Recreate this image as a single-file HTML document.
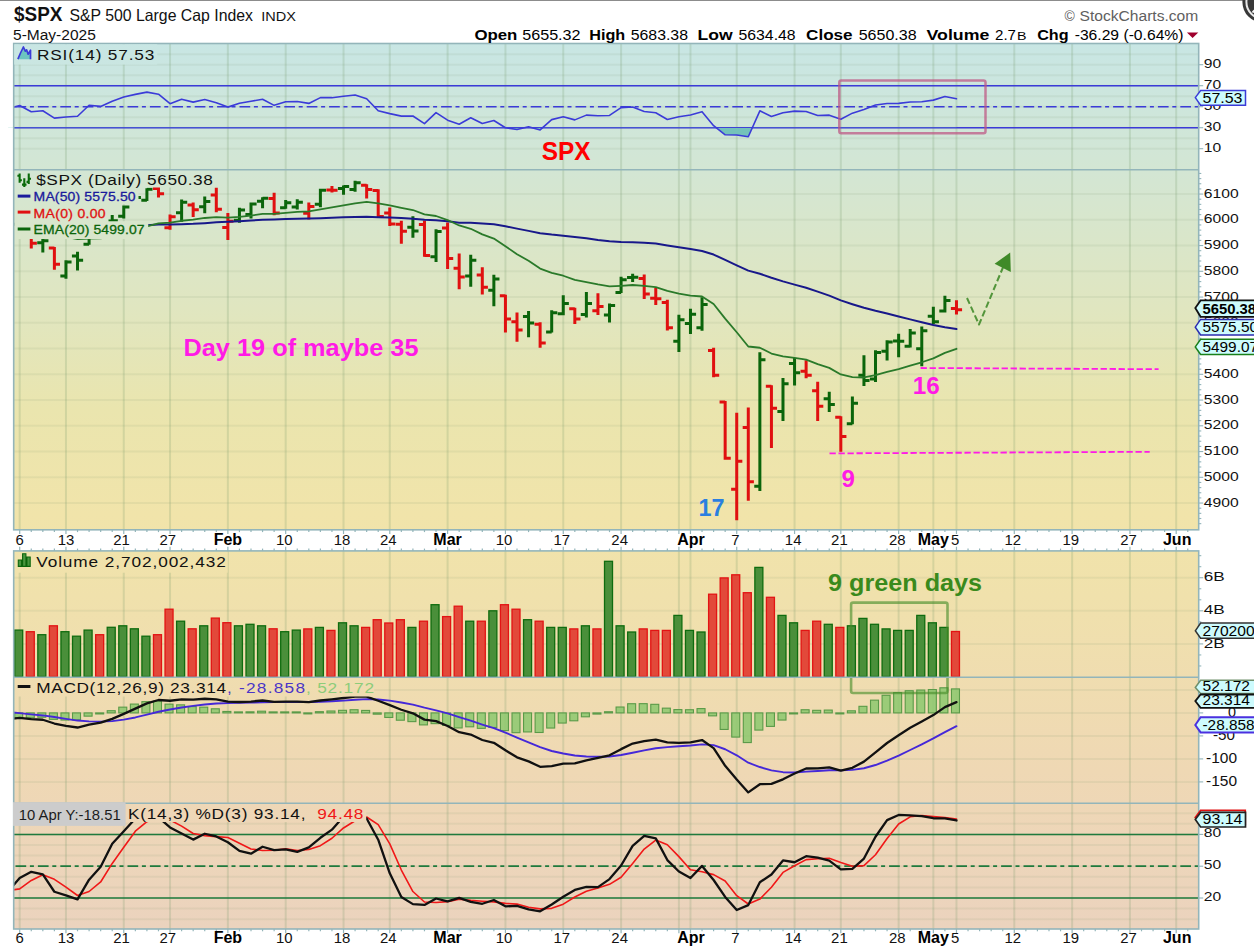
<!DOCTYPE html><html><head><meta charset="utf-8"><title>$SPX</title><style>html,body{margin:0;padding:0;background:#fff}body{width:1254px;height:948px;overflow:hidden;font-family:"Liberation Sans",sans-serif}</style></head><body><svg width="1254" height="948" viewBox="0 0 1254 948" style="display:block">
<defs>
<linearGradient id="bg" gradientUnits="userSpaceOnUse" x1="0" y1="43" x2="0" y2="928">
<stop offset="0" stop-color="#c8e6e4"/>
<stop offset="0.157" stop-color="#d4e6d2"/>
<stop offset="0.3" stop-color="#e0e6c0"/>
<stop offset="0.4136" stop-color="#eae5ae"/>
<stop offset="0.533" stop-color="#f1e4aa"/>
<stop offset="0.625" stop-color="#f0e1ac"/>
<stop offset="0.823" stop-color="#efd8b4"/>
<stop offset="1.0" stop-color="#ebd3be"/>
</linearGradient>
</defs>
<clipPath id="cR"><rect x="13.7" y="43.5" width="1185.0" height="126.1"/></clipPath>
<clipPath id="cM"><rect x="13.7" y="677.0" width="1185.0" height="126.0"/></clipPath>
<clipPath id="cS"><rect x="13.7" y="803.0" width="1185.0" height="126.0"/></clipPath>
<rect x="0" y="0" width="1254" height="948" fill="#fff" stroke="none" stroke-width="1"/>
<rect x="0" y="0" width="1254" height="1" fill="#8c8c8c" stroke="none" stroke-width="1"/>
<circle cx="1263" cy="2" r="20.6" fill="#383838"/><circle cx="1263" cy="2" r="16.6" fill="none" stroke="#e8e8e8" stroke-width="2"/><line x1="1263" y1="2" x2="1253.2" y2="11.8" stroke="#f4f4f4" stroke-width="2.2" stroke-linecap="round"/>
<rect x="13.7" y="43.5" width="1185" height="486.3" fill="url(#bg)" stroke="none" stroke-width="1"/>
<rect x="13.7" y="550.9" width="1185" height="378.1" fill="url(#bg)" stroke="none" stroke-width="1"/>
<line x1="19.7" y1="43.5" x2="19.7" y2="169.6" stroke="rgba(115,150,105,0.21)" stroke-width="2"/>
<line x1="65.96" y1="43.5" x2="65.96" y2="169.6" stroke="rgba(115,150,105,0.21)" stroke-width="2"/>
<line x1="123.78" y1="43.5" x2="123.78" y2="169.6" stroke="rgba(115,150,105,0.21)" stroke-width="2"/>
<line x1="170.04" y1="43.5" x2="170.04" y2="169.6" stroke="rgba(115,150,105,0.21)" stroke-width="2"/>
<line x1="227.87" y1="43.5" x2="227.87" y2="169.6" stroke="rgba(115,150,105,0.21)" stroke-width="2"/>
<line x1="285.69" y1="43.5" x2="285.69" y2="169.6" stroke="rgba(115,150,105,0.21)" stroke-width="2"/>
<line x1="343.52" y1="43.5" x2="343.52" y2="169.6" stroke="rgba(115,150,105,0.21)" stroke-width="2"/>
<line x1="389.78" y1="43.5" x2="389.78" y2="169.6" stroke="rgba(115,150,105,0.21)" stroke-width="2"/>
<line x1="447.6" y1="43.5" x2="447.6" y2="169.6" stroke="rgba(115,150,105,0.21)" stroke-width="2"/>
<line x1="505.43" y1="43.5" x2="505.43" y2="169.6" stroke="rgba(115,150,105,0.21)" stroke-width="2"/>
<line x1="563.25" y1="43.5" x2="563.25" y2="169.6" stroke="rgba(115,150,105,0.21)" stroke-width="2"/>
<line x1="621.08" y1="43.5" x2="621.08" y2="169.6" stroke="rgba(115,150,105,0.21)" stroke-width="2"/>
<line x1="678.9" y1="43.5" x2="678.9" y2="169.6" stroke="rgba(115,150,105,0.21)" stroke-width="2"/>
<line x1="690.47" y1="43.5" x2="690.47" y2="169.6" stroke="rgba(115,150,105,0.21)" stroke-width="2"/>
<line x1="736.73" y1="43.5" x2="736.73" y2="169.6" stroke="rgba(115,150,105,0.21)" stroke-width="2"/>
<line x1="794.56" y1="43.5" x2="794.56" y2="169.6" stroke="rgba(115,150,105,0.21)" stroke-width="2"/>
<line x1="840.82" y1="43.5" x2="840.82" y2="169.6" stroke="rgba(115,150,105,0.21)" stroke-width="2"/>
<line x1="898.64" y1="43.5" x2="898.64" y2="169.6" stroke="rgba(115,150,105,0.21)" stroke-width="2"/>
<line x1="933.34" y1="43.5" x2="933.34" y2="169.6" stroke="rgba(115,150,105,0.21)" stroke-width="2"/>
<line x1="956.47" y1="43.5" x2="956.47" y2="169.6" stroke="rgba(115,150,105,0.21)" stroke-width="2"/>
<line x1="1014.29" y1="43.5" x2="1014.29" y2="169.6" stroke="rgba(115,150,105,0.21)" stroke-width="2"/>
<line x1="1072.12" y1="43.5" x2="1072.12" y2="169.6" stroke="rgba(115,150,105,0.21)" stroke-width="2"/>
<line x1="1129.94" y1="43.5" x2="1129.94" y2="169.6" stroke="rgba(115,150,105,0.21)" stroke-width="2"/>
<line x1="1176.2" y1="43.5" x2="1176.2" y2="169.6" stroke="rgba(115,150,105,0.21)" stroke-width="2"/>
<line x1="13.7" y1="148.7" x2="1198.7" y2="148.7" stroke="rgba(115,150,105,0.10)" stroke-width="2"/>
<line x1="13.7" y1="138.2" x2="1198.7" y2="138.2" stroke="rgba(115,150,105,0.10)" stroke-width="2"/>
<line x1="13.7" y1="127.7" x2="1198.7" y2="127.7" stroke="rgba(115,150,105,0.10)" stroke-width="2"/>
<line x1="13.7" y1="117.2" x2="1198.7" y2="117.2" stroke="rgba(115,150,105,0.10)" stroke-width="2"/>
<line x1="13.7" y1="106.7" x2="1198.7" y2="106.7" stroke="rgba(115,150,105,0.10)" stroke-width="2"/>
<line x1="13.7" y1="96.2" x2="1198.7" y2="96.2" stroke="rgba(115,150,105,0.10)" stroke-width="2"/>
<line x1="13.7" y1="85.7" x2="1198.7" y2="85.7" stroke="rgba(115,150,105,0.10)" stroke-width="2"/>
<line x1="13.7" y1="75.2" x2="1198.7" y2="75.2" stroke="rgba(115,150,105,0.10)" stroke-width="2"/>
<line x1="13.7" y1="64.7" x2="1198.7" y2="64.7" stroke="rgba(115,150,105,0.10)" stroke-width="2"/>
<line x1="13.7" y1="54.2" x2="1198.7" y2="54.2" stroke="rgba(115,150,105,0.10)" stroke-width="2"/>
<line x1="19.7" y1="169.6" x2="19.7" y2="529.8" stroke="rgba(115,150,105,0.21)" stroke-width="2"/>
<line x1="65.96" y1="169.6" x2="65.96" y2="529.8" stroke="rgba(115,150,105,0.21)" stroke-width="2"/>
<line x1="123.78" y1="169.6" x2="123.78" y2="529.8" stroke="rgba(115,150,105,0.21)" stroke-width="2"/>
<line x1="170.04" y1="169.6" x2="170.04" y2="529.8" stroke="rgba(115,150,105,0.21)" stroke-width="2"/>
<line x1="227.87" y1="169.6" x2="227.87" y2="529.8" stroke="rgba(115,150,105,0.21)" stroke-width="2"/>
<line x1="285.69" y1="169.6" x2="285.69" y2="529.8" stroke="rgba(115,150,105,0.21)" stroke-width="2"/>
<line x1="343.52" y1="169.6" x2="343.52" y2="529.8" stroke="rgba(115,150,105,0.21)" stroke-width="2"/>
<line x1="389.78" y1="169.6" x2="389.78" y2="529.8" stroke="rgba(115,150,105,0.21)" stroke-width="2"/>
<line x1="447.6" y1="169.6" x2="447.6" y2="529.8" stroke="rgba(115,150,105,0.21)" stroke-width="2"/>
<line x1="505.43" y1="169.6" x2="505.43" y2="529.8" stroke="rgba(115,150,105,0.21)" stroke-width="2"/>
<line x1="563.25" y1="169.6" x2="563.25" y2="529.8" stroke="rgba(115,150,105,0.21)" stroke-width="2"/>
<line x1="621.08" y1="169.6" x2="621.08" y2="529.8" stroke="rgba(115,150,105,0.21)" stroke-width="2"/>
<line x1="678.9" y1="169.6" x2="678.9" y2="529.8" stroke="rgba(115,150,105,0.21)" stroke-width="2"/>
<line x1="690.47" y1="169.6" x2="690.47" y2="529.8" stroke="rgba(115,150,105,0.21)" stroke-width="2"/>
<line x1="736.73" y1="169.6" x2="736.73" y2="529.8" stroke="rgba(115,150,105,0.21)" stroke-width="2"/>
<line x1="794.56" y1="169.6" x2="794.56" y2="529.8" stroke="rgba(115,150,105,0.21)" stroke-width="2"/>
<line x1="840.82" y1="169.6" x2="840.82" y2="529.8" stroke="rgba(115,150,105,0.21)" stroke-width="2"/>
<line x1="898.64" y1="169.6" x2="898.64" y2="529.8" stroke="rgba(115,150,105,0.21)" stroke-width="2"/>
<line x1="933.34" y1="169.6" x2="933.34" y2="529.8" stroke="rgba(115,150,105,0.21)" stroke-width="2"/>
<line x1="956.47" y1="169.6" x2="956.47" y2="529.8" stroke="rgba(115,150,105,0.21)" stroke-width="2"/>
<line x1="1014.29" y1="169.6" x2="1014.29" y2="529.8" stroke="rgba(115,150,105,0.21)" stroke-width="2"/>
<line x1="1072.12" y1="169.6" x2="1072.12" y2="529.8" stroke="rgba(115,150,105,0.21)" stroke-width="2"/>
<line x1="1129.94" y1="169.6" x2="1129.94" y2="529.8" stroke="rgba(115,150,105,0.21)" stroke-width="2"/>
<line x1="1176.2" y1="169.6" x2="1176.2" y2="529.8" stroke="rgba(115,150,105,0.21)" stroke-width="2"/>
<line x1="13.7" y1="503.05" x2="1198.7" y2="503.05" stroke="rgba(115,150,105,0.10)" stroke-width="2"/>
<line x1="13.7" y1="477.3" x2="1198.7" y2="477.3" stroke="rgba(115,150,105,0.10)" stroke-width="2"/>
<line x1="13.7" y1="451.55" x2="1198.7" y2="451.55" stroke="rgba(115,150,105,0.10)" stroke-width="2"/>
<line x1="13.7" y1="425.8" x2="1198.7" y2="425.8" stroke="rgba(115,150,105,0.10)" stroke-width="2"/>
<line x1="13.7" y1="400.05" x2="1198.7" y2="400.05" stroke="rgba(115,150,105,0.10)" stroke-width="2"/>
<line x1="13.7" y1="374.3" x2="1198.7" y2="374.3" stroke="rgba(115,150,105,0.10)" stroke-width="2"/>
<line x1="13.7" y1="348.55" x2="1198.7" y2="348.55" stroke="rgba(115,150,105,0.10)" stroke-width="2"/>
<line x1="13.7" y1="322.8" x2="1198.7" y2="322.8" stroke="rgba(115,150,105,0.10)" stroke-width="2"/>
<line x1="13.7" y1="297.05" x2="1198.7" y2="297.05" stroke="rgba(115,150,105,0.10)" stroke-width="2"/>
<line x1="13.7" y1="271.3" x2="1198.7" y2="271.3" stroke="rgba(115,150,105,0.10)" stroke-width="2"/>
<line x1="13.7" y1="245.55" x2="1198.7" y2="245.55" stroke="rgba(115,150,105,0.10)" stroke-width="2"/>
<line x1="13.7" y1="219.8" x2="1198.7" y2="219.8" stroke="rgba(115,150,105,0.10)" stroke-width="2"/>
<line x1="13.7" y1="194.05" x2="1198.7" y2="194.05" stroke="rgba(115,150,105,0.10)" stroke-width="2"/>
<line x1="19.7" y1="550.9" x2="19.7" y2="677" stroke="rgba(115,150,105,0.21)" stroke-width="2"/>
<line x1="65.96" y1="550.9" x2="65.96" y2="677" stroke="rgba(115,150,105,0.21)" stroke-width="2"/>
<line x1="123.78" y1="550.9" x2="123.78" y2="677" stroke="rgba(115,150,105,0.21)" stroke-width="2"/>
<line x1="170.04" y1="550.9" x2="170.04" y2="677" stroke="rgba(115,150,105,0.21)" stroke-width="2"/>
<line x1="227.87" y1="550.9" x2="227.87" y2="677" stroke="rgba(115,150,105,0.21)" stroke-width="2"/>
<line x1="285.69" y1="550.9" x2="285.69" y2="677" stroke="rgba(115,150,105,0.21)" stroke-width="2"/>
<line x1="343.52" y1="550.9" x2="343.52" y2="677" stroke="rgba(115,150,105,0.21)" stroke-width="2"/>
<line x1="389.78" y1="550.9" x2="389.78" y2="677" stroke="rgba(115,150,105,0.21)" stroke-width="2"/>
<line x1="447.6" y1="550.9" x2="447.6" y2="677" stroke="rgba(115,150,105,0.21)" stroke-width="2"/>
<line x1="505.43" y1="550.9" x2="505.43" y2="677" stroke="rgba(115,150,105,0.21)" stroke-width="2"/>
<line x1="563.25" y1="550.9" x2="563.25" y2="677" stroke="rgba(115,150,105,0.21)" stroke-width="2"/>
<line x1="621.08" y1="550.9" x2="621.08" y2="677" stroke="rgba(115,150,105,0.21)" stroke-width="2"/>
<line x1="678.9" y1="550.9" x2="678.9" y2="677" stroke="rgba(115,150,105,0.21)" stroke-width="2"/>
<line x1="690.47" y1="550.9" x2="690.47" y2="677" stroke="rgba(115,150,105,0.21)" stroke-width="2"/>
<line x1="736.73" y1="550.9" x2="736.73" y2="677" stroke="rgba(115,150,105,0.21)" stroke-width="2"/>
<line x1="794.56" y1="550.9" x2="794.56" y2="677" stroke="rgba(115,150,105,0.21)" stroke-width="2"/>
<line x1="840.82" y1="550.9" x2="840.82" y2="677" stroke="rgba(115,150,105,0.21)" stroke-width="2"/>
<line x1="898.64" y1="550.9" x2="898.64" y2="677" stroke="rgba(115,150,105,0.21)" stroke-width="2"/>
<line x1="933.34" y1="550.9" x2="933.34" y2="677" stroke="rgba(115,150,105,0.21)" stroke-width="2"/>
<line x1="956.47" y1="550.9" x2="956.47" y2="677" stroke="rgba(115,150,105,0.21)" stroke-width="2"/>
<line x1="1014.29" y1="550.9" x2="1014.29" y2="677" stroke="rgba(115,150,105,0.21)" stroke-width="2"/>
<line x1="1072.12" y1="550.9" x2="1072.12" y2="677" stroke="rgba(115,150,105,0.21)" stroke-width="2"/>
<line x1="1129.94" y1="550.9" x2="1129.94" y2="677" stroke="rgba(115,150,105,0.21)" stroke-width="2"/>
<line x1="1176.2" y1="550.9" x2="1176.2" y2="677" stroke="rgba(115,150,105,0.21)" stroke-width="2"/>
<line x1="13.7" y1="643.9" x2="1198.7" y2="643.9" stroke="rgba(115,150,105,0.10)" stroke-width="2"/>
<line x1="13.7" y1="610.8" x2="1198.7" y2="610.8" stroke="rgba(115,150,105,0.10)" stroke-width="2"/>
<line x1="13.7" y1="577.7" x2="1198.7" y2="577.7" stroke="rgba(115,150,105,0.10)" stroke-width="2"/>
<line x1="19.7" y1="677" x2="19.7" y2="803" stroke="rgba(115,150,105,0.21)" stroke-width="2"/>
<line x1="65.96" y1="677" x2="65.96" y2="803" stroke="rgba(115,150,105,0.21)" stroke-width="2"/>
<line x1="123.78" y1="677" x2="123.78" y2="803" stroke="rgba(115,150,105,0.21)" stroke-width="2"/>
<line x1="170.04" y1="677" x2="170.04" y2="803" stroke="rgba(115,150,105,0.21)" stroke-width="2"/>
<line x1="227.87" y1="677" x2="227.87" y2="803" stroke="rgba(115,150,105,0.21)" stroke-width="2"/>
<line x1="285.69" y1="677" x2="285.69" y2="803" stroke="rgba(115,150,105,0.21)" stroke-width="2"/>
<line x1="343.52" y1="677" x2="343.52" y2="803" stroke="rgba(115,150,105,0.21)" stroke-width="2"/>
<line x1="389.78" y1="677" x2="389.78" y2="803" stroke="rgba(115,150,105,0.21)" stroke-width="2"/>
<line x1="447.6" y1="677" x2="447.6" y2="803" stroke="rgba(115,150,105,0.21)" stroke-width="2"/>
<line x1="505.43" y1="677" x2="505.43" y2="803" stroke="rgba(115,150,105,0.21)" stroke-width="2"/>
<line x1="563.25" y1="677" x2="563.25" y2="803" stroke="rgba(115,150,105,0.21)" stroke-width="2"/>
<line x1="621.08" y1="677" x2="621.08" y2="803" stroke="rgba(115,150,105,0.21)" stroke-width="2"/>
<line x1="678.9" y1="677" x2="678.9" y2="803" stroke="rgba(115,150,105,0.21)" stroke-width="2"/>
<line x1="690.47" y1="677" x2="690.47" y2="803" stroke="rgba(115,150,105,0.21)" stroke-width="2"/>
<line x1="736.73" y1="677" x2="736.73" y2="803" stroke="rgba(115,150,105,0.21)" stroke-width="2"/>
<line x1="794.56" y1="677" x2="794.56" y2="803" stroke="rgba(115,150,105,0.21)" stroke-width="2"/>
<line x1="840.82" y1="677" x2="840.82" y2="803" stroke="rgba(115,150,105,0.21)" stroke-width="2"/>
<line x1="898.64" y1="677" x2="898.64" y2="803" stroke="rgba(115,150,105,0.21)" stroke-width="2"/>
<line x1="933.34" y1="677" x2="933.34" y2="803" stroke="rgba(115,150,105,0.21)" stroke-width="2"/>
<line x1="956.47" y1="677" x2="956.47" y2="803" stroke="rgba(115,150,105,0.21)" stroke-width="2"/>
<line x1="1014.29" y1="677" x2="1014.29" y2="803" stroke="rgba(115,150,105,0.21)" stroke-width="2"/>
<line x1="1072.12" y1="677" x2="1072.12" y2="803" stroke="rgba(115,150,105,0.21)" stroke-width="2"/>
<line x1="1129.94" y1="677" x2="1129.94" y2="803" stroke="rgba(115,150,105,0.21)" stroke-width="2"/>
<line x1="1176.2" y1="677" x2="1176.2" y2="803" stroke="rgba(115,150,105,0.21)" stroke-width="2"/>
<line x1="13.7" y1="689.9" x2="1198.7" y2="689.9" stroke="rgba(115,150,105,0.10)" stroke-width="2"/>
<line x1="13.7" y1="712.9" x2="1198.7" y2="712.9" stroke="rgba(115,150,105,0.10)" stroke-width="2"/>
<line x1="13.7" y1="735.9" x2="1198.7" y2="735.9" stroke="rgba(115,150,105,0.10)" stroke-width="2"/>
<line x1="13.7" y1="758.9" x2="1198.7" y2="758.9" stroke="rgba(115,150,105,0.10)" stroke-width="2"/>
<line x1="13.7" y1="781.9" x2="1198.7" y2="781.9" stroke="rgba(115,150,105,0.10)" stroke-width="2"/>
<line x1="19.7" y1="803" x2="19.7" y2="929" stroke="rgba(115,150,105,0.21)" stroke-width="2"/>
<line x1="65.96" y1="803" x2="65.96" y2="929" stroke="rgba(115,150,105,0.21)" stroke-width="2"/>
<line x1="123.78" y1="803" x2="123.78" y2="929" stroke="rgba(115,150,105,0.21)" stroke-width="2"/>
<line x1="170.04" y1="803" x2="170.04" y2="929" stroke="rgba(115,150,105,0.21)" stroke-width="2"/>
<line x1="227.87" y1="803" x2="227.87" y2="929" stroke="rgba(115,150,105,0.21)" stroke-width="2"/>
<line x1="285.69" y1="803" x2="285.69" y2="929" stroke="rgba(115,150,105,0.21)" stroke-width="2"/>
<line x1="343.52" y1="803" x2="343.52" y2="929" stroke="rgba(115,150,105,0.21)" stroke-width="2"/>
<line x1="389.78" y1="803" x2="389.78" y2="929" stroke="rgba(115,150,105,0.21)" stroke-width="2"/>
<line x1="447.6" y1="803" x2="447.6" y2="929" stroke="rgba(115,150,105,0.21)" stroke-width="2"/>
<line x1="505.43" y1="803" x2="505.43" y2="929" stroke="rgba(115,150,105,0.21)" stroke-width="2"/>
<line x1="563.25" y1="803" x2="563.25" y2="929" stroke="rgba(115,150,105,0.21)" stroke-width="2"/>
<line x1="621.08" y1="803" x2="621.08" y2="929" stroke="rgba(115,150,105,0.21)" stroke-width="2"/>
<line x1="678.9" y1="803" x2="678.9" y2="929" stroke="rgba(115,150,105,0.21)" stroke-width="2"/>
<line x1="690.47" y1="803" x2="690.47" y2="929" stroke="rgba(115,150,105,0.21)" stroke-width="2"/>
<line x1="736.73" y1="803" x2="736.73" y2="929" stroke="rgba(115,150,105,0.21)" stroke-width="2"/>
<line x1="794.56" y1="803" x2="794.56" y2="929" stroke="rgba(115,150,105,0.21)" stroke-width="2"/>
<line x1="840.82" y1="803" x2="840.82" y2="929" stroke="rgba(115,150,105,0.21)" stroke-width="2"/>
<line x1="898.64" y1="803" x2="898.64" y2="929" stroke="rgba(115,150,105,0.21)" stroke-width="2"/>
<line x1="933.34" y1="803" x2="933.34" y2="929" stroke="rgba(115,150,105,0.21)" stroke-width="2"/>
<line x1="956.47" y1="803" x2="956.47" y2="929" stroke="rgba(115,150,105,0.21)" stroke-width="2"/>
<line x1="1014.29" y1="803" x2="1014.29" y2="929" stroke="rgba(115,150,105,0.21)" stroke-width="2"/>
<line x1="1072.12" y1="803" x2="1072.12" y2="929" stroke="rgba(115,150,105,0.21)" stroke-width="2"/>
<line x1="1129.94" y1="803" x2="1129.94" y2="929" stroke="rgba(115,150,105,0.21)" stroke-width="2"/>
<line x1="1176.2" y1="803" x2="1176.2" y2="929" stroke="rgba(115,150,105,0.21)" stroke-width="2"/>
<line x1="13.7" y1="919.2" x2="1198.7" y2="919.2" stroke="rgba(115,150,105,0.10)" stroke-width="2"/>
<line x1="13.7" y1="908.6" x2="1198.7" y2="908.6" stroke="rgba(115,150,105,0.10)" stroke-width="2"/>
<line x1="13.7" y1="898" x2="1198.7" y2="898" stroke="rgba(115,150,105,0.10)" stroke-width="2"/>
<line x1="13.7" y1="887.4" x2="1198.7" y2="887.4" stroke="rgba(115,150,105,0.10)" stroke-width="2"/>
<line x1="13.7" y1="876.8" x2="1198.7" y2="876.8" stroke="rgba(115,150,105,0.10)" stroke-width="2"/>
<line x1="13.7" y1="866.2" x2="1198.7" y2="866.2" stroke="rgba(115,150,105,0.10)" stroke-width="2"/>
<line x1="13.7" y1="855.6" x2="1198.7" y2="855.6" stroke="rgba(115,150,105,0.10)" stroke-width="2"/>
<line x1="13.7" y1="845" x2="1198.7" y2="845" stroke="rgba(115,150,105,0.10)" stroke-width="2"/>
<line x1="13.7" y1="834.4" x2="1198.7" y2="834.4" stroke="rgba(115,150,105,0.10)" stroke-width="2"/>
<line x1="13.7" y1="823.8" x2="1198.7" y2="823.8" stroke="rgba(115,150,105,0.10)" stroke-width="2"/>
<line x1="13.7" y1="813.2" x2="1198.7" y2="813.2" stroke="rgba(115,150,105,0.10)" stroke-width="2"/>
<line x1="13.7" y1="85.7" x2="1198.7" y2="85.7" stroke="#3b3bd8" stroke-width="1.4"/>
<line x1="13.7" y1="127.7" x2="1198.7" y2="127.7" stroke="#3b3bd8" stroke-width="1.4"/>
<line x1="15.5" y1="106.7" x2="1198.7" y2="106.7" stroke="#3b3bd8" stroke-width="1.45" stroke-dasharray="10.7,3.7,4,4"/>
<clipPath id="os"><rect x="0" y="127.7" width="1254" height="60"/></clipPath>
<polygon clip-path="url(#os)" points="8.13,127.7 8.13,108.8 19.7,105.56 31.27,111.69 42.83,110.72 54.39,118.09 65.96,117.06 77.52,116.27 89.09,105.23 100.66,106.42 112.22,101.16 123.78,97.05 135.35,94.37 146.91,92.15 158.48,94.24 170.04,103.73 181.61,99.31 193.17,102.12 204.74,99.55 216.3,102.69 227.87,107.12 239.43,103.22 251,101.19 262.56,99.3 274.13,105.36 285.69,101.73 297.26,101.54 308.82,103.41 320.39,97.62 331.95,97.67 343.52,96.31 355.08,94.97 366.65,98.76 378.21,110.8 389.78,113.6 401.34,116.12 412.91,116.01 424.47,123.67 436.04,112.69 447.6,120.18 459.17,124.31 470.73,117.78 482.3,123.56 493.86,120.52 505.43,127.79 517,129.43 528.56,126.81 540.12,129.95 551.69,119.64 563.25,116.82 574.82,119.87 586.38,115.13 597.95,115.82 609.51,115.43 621.08,107.65 632.64,106.99 644.21,111.47 655.77,112.73 667.34,119.44 678.9,116.76 690.47,114.92 702.03,111.67 713.6,125.68 725.16,134.79 736.73,135.05 748.29,136.77 759.86,110.82 771.43,116.56 782.99,112.78 794.56,111.12 806.12,111.44 817.69,115.49 829.25,115.17 840.82,119.2 852.38,113.15 863.95,109.39 875.51,105.07 887.08,103.52 898.64,103.38 910.21,102.05 921.77,101.69 933.34,100.13 944.9,96.58 956.47,98.79 956.47,127.7" fill="#74c2ba"/>
<polyline points="8.13,108.8 19.7,105.56 31.27,111.69 42.83,110.72 54.39,118.09 65.96,117.06 77.52,116.27 89.09,105.23 100.66,106.42 112.22,101.16 123.78,97.05 135.35,94.37 146.91,92.15 158.48,94.24 170.04,103.73 181.61,99.31 193.17,102.12 204.74,99.55 216.3,102.69 227.87,107.12 239.43,103.22 251,101.19 262.56,99.3 274.13,105.36 285.69,101.73 297.26,101.54 308.82,103.41 320.39,97.62 331.95,97.67 343.52,96.31 355.08,94.97 366.65,98.76 378.21,110.8 389.78,113.6 401.34,116.12 412.91,116.01 424.47,123.67 436.04,112.69 447.6,120.18 459.17,124.31 470.73,117.78 482.3,123.56 493.86,120.52 505.43,127.79 517,129.43 528.56,126.81 540.12,129.95 551.69,119.64 563.25,116.82 574.82,119.87 586.38,115.13 597.95,115.82 609.51,115.43 621.08,107.65 632.64,106.99 644.21,111.47 655.77,112.73 667.34,119.44 678.9,116.76 690.47,114.92 702.03,111.67 713.6,125.68 725.16,134.79 736.73,135.05 748.29,136.77 759.86,110.82 771.43,116.56 782.99,112.78 794.56,111.12 806.12,111.44 817.69,115.49 829.25,115.17 840.82,119.2 852.38,113.15 863.95,109.39 875.51,105.07 887.08,103.52 898.64,103.38 910.21,102.05 921.77,101.69 933.34,100.13 944.9,96.58 956.47,98.79" fill="none" stroke="#3b3bd8" stroke-width="1.6" stroke-linejoin="round" stroke-linecap="round" clip-path="url(#cR)"/>
<rect x="839.3" y="80.6" width="146.2" height="52.6" fill="none" stroke="rgba(190,85,130,0.72)" stroke-width="2.5" rx="2"/>
<text x="541.8" y="160.2" font-family="Liberation Sans" font-size="25" font-weight="bold" fill="#ff0000" text-anchor="start" textLength="48.8" lengthAdjust="spacingAndGlyphs">SPX</text>
<path d="M19.7,213.38V230.6M14.1,224.23H19.7M19.7,226.14H25.3" stroke="#0b650b" stroke-width="3" fill="none"/>
<path d="M31.27,218.62V248.45M25.66,221.54H31.27M31.27,243.22H36.87" stroke="#e01010" stroke-width="3" fill="none"/>
<path d="M42.83,237.37V252.54M37.23,242.81H42.83M42.83,240.85H48.43" stroke="#0b650b" stroke-width="3" fill="none"/>
<path d="M54.39,247.03V269.8M48.79,248.03H54.39M54.39,264.34H59.99" stroke="#e01010" stroke-width="3" fill="none"/>
<path d="M65.96,260.36V278.67M60.36,275.93H65.96M65.96,261.97H71.56" stroke="#0b650b" stroke-width="3" fill="none"/>
<path d="M77.52,251.78V270.4M71.92,256.04H77.52M77.52,260.25H83.12" stroke="#0b650b" stroke-width="3" fill="none"/>
<path d="M89.09,228.94V244.71M83.49,244.21H89.09M89.09,232.7H94.69" stroke="#0b650b" stroke-width="3" fill="none"/>
<path d="M100.66,227.89V238.14M95.06,229.17H100.66M100.66,235.93H106.25" stroke="#e01010" stroke-width="3" fill="none"/>
<path d="M112.22,214.95V225.85M106.62,220.98H112.22M112.22,220.66H117.82" stroke="#0b650b" stroke-width="3" fill="none"/>
<path d="M123.78,205.54V218.53M118.19,216.16H123.78M123.78,207.12H129.38" stroke="#0b650b" stroke-width="3" fill="none"/>
<path d="M135.35,192.84V200.7M129.75,198.84H135.35M135.35,197.56H140.95" stroke="#0b650b" stroke-width="3" fill="none"/>
<path d="M146.91,188.23V201.07M141.31,200.15H146.91M146.91,189.23H152.51" stroke="#0b650b" stroke-width="3" fill="none"/>
<path d="M158.48,185.79V197.45M152.88,188.53H158.48M158.48,193.73H164.08" stroke="#e01010" stroke-width="3" fill="none"/>
<path d="M170.04,214.38V229.85M164.44,227.77H170.04M170.04,216.64H175.64" stroke="#e01010" stroke-width="3" fill="none"/>
<path d="M181.61,199.61V221.68M176.01,212.86H181.61M181.61,202.37H187.21" stroke="#0b650b" stroke-width="3" fill="none"/>
<path d="M193.17,202.62V216.96M187.57,204.94H193.17M193.17,209.68H198.77" stroke="#e01010" stroke-width="3" fill="none"/>
<path d="M204.74,196.49V213.23M199.14,206.73H204.74M204.74,201.47H210.34" stroke="#0b650b" stroke-width="3" fill="none"/>
<path d="M216.3,187.67V212.34M210.7,194.88H216.3M216.3,209.36H221.9" stroke="#e01010" stroke-width="3" fill="none"/>
<path d="M227.87,213.1V239.89M222.27,227.62H227.87M227.87,221.2H233.47" stroke="#e01010" stroke-width="3" fill="none"/>
<path d="M239.43,207.86V222.65M233.83,220.28H239.43M239.43,210.05H245.03" stroke="#0b650b" stroke-width="3" fill="none"/>
<path d="M251,202.61V218.48M245.4,214.53H251M251,203.97H256.6" stroke="#0b650b" stroke-width="3" fill="none"/>
<path d="M262.56,197.16V208.24M256.96,201.2H262.56M262.56,198.28H268.17" stroke="#0b650b" stroke-width="3" fill="none"/>
<path d="M274.13,192.72V215.16M268.53,198.39H274.13M274.13,213.11H279.73" stroke="#e01010" stroke-width="3" fill="none"/>
<path d="M285.69,199.9V208.75M280.09,207.85H285.69M285.69,202.69H291.3" stroke="#0b650b" stroke-width="3" fill="none"/>
<path d="M297.26,199.16V209.4M291.66,207.1H297.26M297.26,202.16H302.86" stroke="#0b650b" stroke-width="3" fill="none"/>
<path d="M308.82,202.58V219.53M303.22,213.34H308.82M308.82,206.42H314.43" stroke="#e01010" stroke-width="3" fill="none"/>
<path d="M320.39,188.7V207.18M314.79,204.2H320.39M320.39,190.17H325.99" stroke="#0b650b" stroke-width="3" fill="none"/>
<path d="M331.95,185.98V192.59M326.35,190.05H331.95M331.95,190.28H337.56" stroke="#e01010" stroke-width="3" fill="none"/>
<path d="M343.52,185.42V194.68M337.92,188.49H343.52M343.52,186.43H349.12" stroke="#0b650b" stroke-width="3" fill="none"/>
<path d="M355.08,180.84V191.68M349.48,189.48H355.08M355.08,182.68H360.69" stroke="#0b650b" stroke-width="3" fill="none"/>
<path d="M366.65,184.17V198.52M361.05,185.17H366.65M366.65,189.54H372.25" stroke="#e01010" stroke-width="3" fill="none"/>
<path d="M378.21,189.23V218.1M372.61,190.42H378.21M378.21,216.42H383.81" stroke="#e01010" stroke-width="3" fill="none"/>
<path d="M389.78,207.56V226.01M384.18,212.93H389.78M389.78,224.11H395.38" stroke="#e01010" stroke-width="3" fill="none"/>
<path d="M401.34,220.69V243.86M395.74,224.25H401.34M401.34,231.32H406.94" stroke="#e01010" stroke-width="3" fill="none"/>
<path d="M412.91,216.27V237.63M407.31,227.3H412.91M412.91,231.11H418.51" stroke="#0b650b" stroke-width="3" fill="none"/>
<path d="M424.47,220.42V256.66M418.87,224.47H424.47M424.47,255.45H430.07" stroke="#e01010" stroke-width="3" fill="none"/>
<path d="M436.04,229.25V262.1M430.44,256.69H436.04M436.04,231.52H441.64" stroke="#0b650b" stroke-width="3" fill="none"/>
<path d="M447.6,222.38V268.99M442,227.96H447.6M447.6,258.5H453.2" stroke="#e01010" stroke-width="3" fill="none"/>
<path d="M459.17,253.54V289.16M453.57,268.22H459.17M459.17,276.93H464.77" stroke="#e01010" stroke-width="3" fill="none"/>
<path d="M470.73,254.7V286.64M465.13,276.1H470.73M470.73,260.32H476.33" stroke="#0b650b" stroke-width="3" fill="none"/>
<path d="M482.3,267.19V294.55M476.7,274.94H482.3M482.3,287.13H487.9" stroke="#e01010" stroke-width="3" fill="none"/>
<path d="M493.86,274.67V306.23M488.26,290.35H493.86M493.86,278.97H499.46" stroke="#0b650b" stroke-width="3" fill="none"/>
<path d="M505.43,294.67V332.56M499.83,295.67H505.43M505.43,319.05H511.03" stroke="#e01010" stroke-width="3" fill="none"/>
<path d="M517,312.45V341.73M511.39,321.86H517M517,329.99H522.6" stroke="#e01010" stroke-width="3" fill="none"/>
<path d="M528.56,310.94V337.18M522.96,316.4H528.56M528.56,322.98H534.16" stroke="#0b650b" stroke-width="3" fill="none"/>
<path d="M540.12,322.37V347.85M534.52,324.23H540.12M540.12,343.01H545.73" stroke="#e01010" stroke-width="3" fill="none"/>
<path d="M551.69,310.14V332.61M546.09,332.11H551.69M551.69,312.77H557.29" stroke="#0b650b" stroke-width="3" fill="none"/>
<path d="M563.25,295.14V315.29M557.65,313.63H563.25M563.25,303.46H568.86" stroke="#0b650b" stroke-width="3" fill="none"/>
<path d="M574.82,307.76V323.88M569.22,308.76H574.82M574.82,319.03H580.42" stroke="#e01010" stroke-width="3" fill="none"/>
<path d="M586.38,292.1V317.58M580.78,314.46H586.38M586.38,303.41H591.99" stroke="#0b650b" stroke-width="3" fill="none"/>
<path d="M597.95,293.18V314.98M592.35,310.72H597.95M597.95,306.61H603.55" stroke="#e01010" stroke-width="3" fill="none"/>
<path d="M609.51,303.56V322.5M603.91,314.89H609.51M609.51,305.4H615.12" stroke="#0b650b" stroke-width="3" fill="none"/>
<path d="M621.08,276.7V292.89M615.48,292.39H621.08M621.08,279.65H626.68" stroke="#0b650b" stroke-width="3" fill="none"/>
<path d="M632.64,273.66V281.99M627.04,277.49H632.64M632.64,277.31H638.25" stroke="#0b650b" stroke-width="3" fill="none"/>
<path d="M644.21,274.52V298.99M638.61,278.6H644.21M644.21,293.91H649.81" stroke="#e01010" stroke-width="3" fill="none"/>
<path d="M655.77,287.74V305.03M650.17,298.17H655.77M655.77,298.77H661.38" stroke="#e01010" stroke-width="3" fill="none"/>
<path d="M667.34,299.68V330.4M661.74,302.41H667.34M667.34,327.71H672.94" stroke="#e01010" stroke-width="3" fill="none"/>
<path d="M678.9,314.7V351.95M673.3,341.36H678.9M678.9,319.75H684.5" stroke="#0b650b" stroke-width="3" fill="none"/>
<path d="M690.47,308.78V333.98M684.87,323.44H690.47M690.47,314.28H696.07" stroke="#0b650b" stroke-width="3" fill="none"/>
<path d="M702.03,297.26V330.64M696.43,327.75H702.03M702.03,304.53H707.63" stroke="#0b650b" stroke-width="3" fill="none"/>
<path d="M713.6,347.67V377.16M708,350.42H713.6M713.6,375.2H719.2" stroke="#e01010" stroke-width="3" fill="none"/>
<path d="M725.16,401.07V459.8M719.56,402.07H725.16M725.16,458.22H730.76" stroke="#e01010" stroke-width="3" fill="none"/>
<path d="M736.73,412.81V520.28M731.13,489.2H736.73M736.73,461.27H742.33" stroke="#e01010" stroke-width="3" fill="none"/>
<path d="M748.29,407.43V500.87M742.69,427.46H748.29M748.29,481.74H753.89" stroke="#e01010" stroke-width="3" fill="none"/>
<path d="M759.86,352.35V491.08M754.26,486.24H759.86M759.86,359.65H765.46" stroke="#0b650b" stroke-width="3" fill="none"/>
<path d="M771.43,385.36V448.12M765.83,386.36H771.43M771.43,408.28H777.03" stroke="#e01010" stroke-width="3" fill="none"/>
<path d="M782.99,378.07V420.95M777.39,411.49H782.99M782.99,383.73H788.59" stroke="#0b650b" stroke-width="3" fill="none"/>
<path d="M794.56,357.99V385.61M788.96,363.5H794.56M794.56,372.76H800.16" stroke="#0b650b" stroke-width="3" fill="none"/>
<path d="M806.12,360.32V378.29M800.52,371.21H806.12M806.12,375.17H811.72" stroke="#e01010" stroke-width="3" fill="none"/>
<path d="M817.69,381.74V420.95M812.09,390.84H817.69M817.69,406.31H823.29" stroke="#e01010" stroke-width="3" fill="none"/>
<path d="M829.25,391.76V411.99M823.65,398.65H829.25M829.25,404.5H834.85" stroke="#0b650b" stroke-width="3" fill="none"/>
<path d="M840.82,416.32V451.63M835.22,417.32H840.82M840.82,436.56H846.42" stroke="#e01010" stroke-width="3" fill="none"/>
<path d="M852.38,396.58V424.32M846.78,423.82H852.38M852.38,403.2H857.98" stroke="#0b650b" stroke-width="3" fill="none"/>
<path d="M863.95,355.35V386.09M858.35,375.35H863.95M863.95,380.52H869.55" stroke="#0b650b" stroke-width="3" fill="none"/>
<path d="M875.51,350.28V382.02M869.91,379.09H875.51M875.51,352.47H881.11" stroke="#0b650b" stroke-width="3" fill="none"/>
<path d="M887.08,340.31V360.42M881.48,351.19H887.08M887.08,342.06H892.68" stroke="#0b650b" stroke-width="3" fill="none"/>
<path d="M898.64,333.73V357.13M893.04,341.03H898.64M898.64,341.15H904.24" stroke="#0b650b" stroke-width="3" fill="none"/>
<path d="M910.21,329.02V347.58M904.61,346.27H910.21M910.21,332.89H915.81" stroke="#0b650b" stroke-width="3" fill="none"/>
<path d="M921.77,326.48V366.24M916.17,348.69H921.77M921.77,330.77H927.37" stroke="#0b650b" stroke-width="3" fill="none"/>
<path d="M933.34,306.63V323.98M927.74,316.33H933.34M933.34,321.73H938.94" stroke="#0b650b" stroke-width="3" fill="none"/>
<path d="M944.9,295.87V312.41M939.3,310.99H944.9M944.9,300.48H950.5" stroke="#0b650b" stroke-width="3" fill="none"/>
<path d="M956.47,300.33V314.42M950.87,308.56H956.47M956.47,309.83H962.07" stroke="#e01010" stroke-width="3" fill="none"/>
<polyline points="19.7,233.15 31.27,232.64 42.83,232.07 54.39,232.06 65.96,232.04 77.52,231.89 89.09,230.63 100.66,229.56 112.22,228.09 123.78,226.72 135.35,225.91 146.91,225.16 158.48,224.62 170.04,224.56 181.61,224.13 193.17,223.85 204.74,223.22 216.3,222.35 227.87,221.83 239.43,221.21 251,220.46 262.56,219.77 274.13,219.48 285.69,219.07 297.26,218.83 308.82,218.55 320.39,218.13 331.95,217.78 343.52,217.37 355.08,217.07 366.65,216.85 378.21,217.25 389.78,217.61 401.34,218.02 412.91,218.68 424.47,219.66 436.04,220.15 447.6,221.31 459.17,222.71 470.73,222.86 482.3,223.53 493.86,224.35 505.43,226.21 517,228.62 528.56,230.87 540.12,233.19 551.69,234.57 563.25,235.63 574.82,236.94 586.38,238.31 597.95,239.92 609.51,241.17 621.08,241.94 632.64,242.2 644.21,242.84 655.77,243.61 667.34,245.51 678.9,247.19 690.47,249.06 702.03,251.01 713.6,254.56 725.16,259.94 736.73,265.29 748.29,270.59 759.86,273.74 771.43,277.71 782.99,281.36 794.56,284.62 806.12,287.7 817.69,291.63 829.25,295.64 840.82,300.41 852.38,304.21 863.95,307.76 875.51,310.77 887.08,313.48 898.64,316.5 910.21,319.35 921.77,322.24 933.34,325.02 944.9,327.24 956.47,329.11" fill="none" stroke="#18188a" stroke-width="2.0" stroke-linejoin="round" stroke-linecap="round"/>
<polyline points="19.7,228.82 31.27,230.2 42.83,231.21 54.39,234.37 65.96,236.99 77.52,239.21 89.09,238.59 100.66,238.34 112.22,236.65 123.78,233.84 135.35,230.39 146.91,226.47 158.48,223.35 170.04,222.71 181.61,220.77 193.17,219.72 204.74,217.98 216.3,217.16 227.87,217.54 239.43,216.83 251,215.6 262.56,213.95 274.13,213.87 285.69,212.81 297.26,211.79 308.82,211.28 320.39,209.27 331.95,207.46 343.52,205.46 355.08,203.29 366.65,201.98 378.21,203.36 389.78,205.33 401.34,207.81 412.91,210.03 424.47,214.35 436.04,215.99 447.6,220.04 459.17,225.45 470.73,228.78 482.3,234.33 493.86,238.58 505.43,246.25 517,254.22 528.56,260.77 540.12,268.6 551.69,272.81 563.25,275.73 574.82,279.85 586.38,282.1 597.95,284.43 609.51,286.43 621.08,285.78 632.64,284.98 644.21,285.83 655.77,287.06 667.34,290.93 678.9,293.68 690.47,295.64 702.03,296.48 713.6,303.98 725.16,318.67 736.73,332.25 748.29,346.49 759.86,347.74 771.43,353.51 782.99,356.39 794.56,357.95 806.12,359.59 817.69,364.04 829.25,367.89 840.82,374.43 852.38,377.17 863.95,377.49 875.51,375.11 887.08,371.96 898.64,369.02 910.21,365.58 921.77,362.27 933.34,358.41 944.9,352.89 956.47,348.79" fill="none" stroke="#2a7a2a" stroke-width="1.8" stroke-linejoin="round" stroke-linecap="round"/>
<text x="183.5" y="356.3" font-family="Liberation Sans" font-size="24" font-weight="bold" fill="#ff1ae6" text-anchor="start" textLength="235" lengthAdjust="spacingAndGlyphs">Day 19 of maybe 35</text>
<text x="912.7" y="394" font-family="Liberation Sans" font-size="24" font-weight="bold" fill="#ff1ae6" text-anchor="start" textLength="27" lengthAdjust="spacingAndGlyphs">16</text>
<text x="841.6" y="486.6" font-family="Liberation Sans" font-size="24.5" font-weight="bold" fill="#ff1ae6" text-anchor="start" textLength="13.4" lengthAdjust="spacingAndGlyphs">9</text>
<text x="698.4" y="516.4" font-family="Liberation Sans" font-size="24" font-weight="bold" fill="#2a7fe0" text-anchor="start" textLength="26" lengthAdjust="spacingAndGlyphs">17</text>
<line x1="920.6" y1="368" x2="1158.6" y2="369.2" stroke="#ff1ae6" stroke-width="1.8" stroke-dasharray="6.3,2.7"/>
<line x1="829.5" y1="453.4" x2="1149.7" y2="451.8" stroke="#ff1ae6" stroke-width="1.8" stroke-dasharray="6.3,2.7"/>
<polyline points="967,298 979,324.5 1004,265" fill="none" stroke="#3f8a28" stroke-width="2" stroke-dasharray="6.5,3" stroke-linejoin="round" opacity="0.88"/>
<polygon points="1010.2,252.6 994.6,263.8 1010.8,272" fill="#3f8a28"/>
<path d="M14.2,170.4H214.5V187.5H138.5V204H108.5V221.3H148.2V239.1H14.2Z" fill="url(#bg)"/>
<path d="M19.65,173.4V182.7M17.4,175.7H19.65M19.65,180.3H21.9M24.3,178.2V187.1M22,184.6H26.5M28.75,173.4V184M26.5,181.9H28.75M28.75,178.7H31" stroke="#0a6a0a" stroke-width="2.1" fill="none"/>
<text transform="translate(36.2,184.7) scale(1.15,1)" font-family="Liberation Sans" font-size="15" font-weight="normal" fill="#111" textLength="153.65" lengthAdjust="spacing">$SPX (Daily) 5650.38</text>
<line x1="17.7" y1="196.1" x2="30.4" y2="196.1" stroke="#1a1a9c" stroke-width="3"/>
<text transform="translate(33.6,201.3) scale(1.06,1)" font-family="Liberation Sans" font-size="13.2" font-weight="normal" fill="#1a1a9c" textLength="96.23" lengthAdjust="spacing" stroke="#1a1a9c" stroke-width="0.3">MA(50) 5575.50</text>
<line x1="17.7" y1="212.1" x2="30.4" y2="212.1" stroke="#e01010" stroke-width="3"/>
<text transform="translate(33.6,217.8) scale(1.06,1)" font-family="Liberation Sans" font-size="13.2" font-weight="normal" fill="#e01010" textLength="67.92" lengthAdjust="spacing" stroke="#e01010" stroke-width="0.3">MA(0) 0.00</text>
<line x1="17.7" y1="229" x2="30.4" y2="229" stroke="#0b650b" stroke-width="3"/>
<text transform="translate(33.6,234.4) scale(1.06,1)" font-family="Liberation Sans" font-size="13.2" font-weight="normal" fill="#0b650b" textLength="104.72" lengthAdjust="spacing" stroke="#0b650b" stroke-width="0.3">EMA(20) 5499.07</text>
<rect x="14.7" y="630.1" width="8" height="46.4" fill="#4a8f3a" stroke="#0f6c0f" stroke-width="1.3"/>
<rect x="26.27" y="631.7" width="8" height="44.8" fill="#e2493a" stroke="#e31313" stroke-width="1.3"/>
<rect x="37.83" y="634.7" width="8" height="41.8" fill="#4a8f3a" stroke="#0f6c0f" stroke-width="1.3"/>
<rect x="49.39" y="625.8" width="8" height="50.7" fill="#e2493a" stroke="#e31313" stroke-width="1.3"/>
<rect x="60.96" y="631.7" width="8" height="44.8" fill="#4a8f3a" stroke="#0f6c0f" stroke-width="1.3"/>
<rect x="72.52" y="636.2" width="8" height="40.3" fill="#4a8f3a" stroke="#0f6c0f" stroke-width="1.3"/>
<rect x="84.09" y="630.1" width="8" height="46.4" fill="#4a8f3a" stroke="#0f6c0f" stroke-width="1.3"/>
<rect x="95.66" y="634.7" width="8" height="41.8" fill="#e2493a" stroke="#e31313" stroke-width="1.3"/>
<rect x="107.22" y="627.3" width="8" height="49.2" fill="#4a8f3a" stroke="#0f6c0f" stroke-width="1.3"/>
<rect x="118.78" y="625.8" width="8" height="50.7" fill="#4a8f3a" stroke="#0f6c0f" stroke-width="1.3"/>
<rect x="130.35" y="628.8" width="8" height="47.7" fill="#4a8f3a" stroke="#0f6c0f" stroke-width="1.3"/>
<rect x="141.91" y="636.2" width="8" height="40.3" fill="#4a8f3a" stroke="#0f6c0f" stroke-width="1.3"/>
<rect x="153.48" y="634.7" width="8" height="41.8" fill="#e2493a" stroke="#e31313" stroke-width="1.3"/>
<rect x="165.04" y="609.2" width="8" height="67.3" fill="#e2493a" stroke="#e31313" stroke-width="1.3"/>
<rect x="176.61" y="621.2" width="8" height="55.3" fill="#4a8f3a" stroke="#0f6c0f" stroke-width="1.3"/>
<rect x="188.17" y="628.8" width="8" height="47.7" fill="#e2493a" stroke="#e31313" stroke-width="1.3"/>
<rect x="199.74" y="625.8" width="8" height="50.7" fill="#4a8f3a" stroke="#0f6c0f" stroke-width="1.3"/>
<rect x="211.3" y="618.1" width="8" height="58.4" fill="#e2493a" stroke="#e31313" stroke-width="1.3"/>
<rect x="222.87" y="622.7" width="8" height="53.8" fill="#e2493a" stroke="#e31313" stroke-width="1.3"/>
<rect x="234.43" y="625.8" width="8" height="50.7" fill="#4a8f3a" stroke="#0f6c0f" stroke-width="1.3"/>
<rect x="246" y="624.3" width="8" height="52.2" fill="#4a8f3a" stroke="#0f6c0f" stroke-width="1.3"/>
<rect x="257.56" y="625.8" width="8" height="50.7" fill="#4a8f3a" stroke="#0f6c0f" stroke-width="1.3"/>
<rect x="269.13" y="628.8" width="8" height="47.7" fill="#e2493a" stroke="#e31313" stroke-width="1.3"/>
<rect x="280.69" y="631.7" width="8" height="44.8" fill="#4a8f3a" stroke="#0f6c0f" stroke-width="1.3"/>
<rect x="292.26" y="630.1" width="8" height="46.4" fill="#4a8f3a" stroke="#0f6c0f" stroke-width="1.3"/>
<rect x="303.82" y="628.9" width="8" height="47.6" fill="#e2493a" stroke="#e31313" stroke-width="1.3"/>
<rect x="315.39" y="627.4" width="8" height="49.1" fill="#4a8f3a" stroke="#0f6c0f" stroke-width="1.3"/>
<rect x="326.95" y="630.4" width="8" height="46.1" fill="#e2493a" stroke="#e31313" stroke-width="1.3"/>
<rect x="338.52" y="622.8" width="8" height="53.7" fill="#4a8f3a" stroke="#0f6c0f" stroke-width="1.3"/>
<rect x="350.08" y="625.8" width="8" height="50.7" fill="#4a8f3a" stroke="#0f6c0f" stroke-width="1.3"/>
<rect x="361.65" y="627.4" width="8" height="49.1" fill="#e2493a" stroke="#e31313" stroke-width="1.3"/>
<rect x="373.21" y="619.7" width="8" height="56.8" fill="#e2493a" stroke="#e31313" stroke-width="1.3"/>
<rect x="384.78" y="623" width="8" height="53.5" fill="#e2493a" stroke="#e31313" stroke-width="1.3"/>
<rect x="396.34" y="619.7" width="8" height="56.8" fill="#e2493a" stroke="#e31313" stroke-width="1.3"/>
<rect x="407.91" y="627.4" width="8" height="49.1" fill="#4a8f3a" stroke="#0f6c0f" stroke-width="1.3"/>
<rect x="419.47" y="621.2" width="8" height="55.3" fill="#e2493a" stroke="#e31313" stroke-width="1.3"/>
<rect x="431.04" y="604.7" width="8" height="71.8" fill="#4a8f3a" stroke="#0f6c0f" stroke-width="1.3"/>
<rect x="442.6" y="616.6" width="8" height="59.9" fill="#e2493a" stroke="#e31313" stroke-width="1.3"/>
<rect x="454.17" y="606.2" width="8" height="70.3" fill="#e2493a" stroke="#e31313" stroke-width="1.3"/>
<rect x="465.73" y="621.2" width="8" height="55.3" fill="#4a8f3a" stroke="#0f6c0f" stroke-width="1.3"/>
<rect x="477.3" y="621.2" width="8" height="55.3" fill="#e2493a" stroke="#e31313" stroke-width="1.3"/>
<rect x="488.86" y="610.8" width="8" height="65.7" fill="#4a8f3a" stroke="#0f6c0f" stroke-width="1.3"/>
<rect x="500.43" y="604.7" width="8" height="71.8" fill="#e2493a" stroke="#e31313" stroke-width="1.3"/>
<rect x="512" y="609.2" width="8" height="67.3" fill="#e2493a" stroke="#e31313" stroke-width="1.3"/>
<rect x="523.56" y="619.7" width="8" height="56.8" fill="#4a8f3a" stroke="#0f6c0f" stroke-width="1.3"/>
<rect x="535.12" y="621.2" width="8" height="55.3" fill="#e2493a" stroke="#e31313" stroke-width="1.3"/>
<rect x="546.69" y="627.4" width="8" height="49.1" fill="#4a8f3a" stroke="#0f6c0f" stroke-width="1.3"/>
<rect x="558.25" y="627.4" width="8" height="49.1" fill="#4a8f3a" stroke="#0f6c0f" stroke-width="1.3"/>
<rect x="569.82" y="628.9" width="8" height="47.6" fill="#e2493a" stroke="#e31313" stroke-width="1.3"/>
<rect x="581.38" y="625.8" width="8" height="50.7" fill="#4a8f3a" stroke="#0f6c0f" stroke-width="1.3"/>
<rect x="592.95" y="628.9" width="8" height="47.6" fill="#e2493a" stroke="#e31313" stroke-width="1.3"/>
<rect x="604.51" y="561.3" width="8" height="115.2" fill="#4a8f3a" stroke="#0f6c0f" stroke-width="1.3"/>
<rect x="616.08" y="625.8" width="8" height="50.7" fill="#4a8f3a" stroke="#0f6c0f" stroke-width="1.3"/>
<rect x="627.64" y="632" width="8" height="44.5" fill="#4a8f3a" stroke="#0f6c0f" stroke-width="1.3"/>
<rect x="639.21" y="628.9" width="8" height="47.6" fill="#e2493a" stroke="#e31313" stroke-width="1.3"/>
<rect x="650.77" y="630.4" width="8" height="46.1" fill="#e2493a" stroke="#e31313" stroke-width="1.3"/>
<rect x="662.34" y="630.4" width="8" height="46.1" fill="#e2493a" stroke="#e31313" stroke-width="1.3"/>
<rect x="673.9" y="615.4" width="8" height="61.1" fill="#4a8f3a" stroke="#0f6c0f" stroke-width="1.3"/>
<rect x="685.47" y="630.4" width="8" height="46.1" fill="#4a8f3a" stroke="#0f6c0f" stroke-width="1.3"/>
<rect x="697.03" y="632" width="8" height="44.5" fill="#4a8f3a" stroke="#0f6c0f" stroke-width="1.3"/>
<rect x="708.6" y="594.2" width="8" height="82.3" fill="#e2493a" stroke="#e31313" stroke-width="1.3"/>
<rect x="720.16" y="577.9" width="8" height="98.6" fill="#e2493a" stroke="#e31313" stroke-width="1.3"/>
<rect x="731.73" y="574.8" width="8" height="101.7" fill="#e2493a" stroke="#e31313" stroke-width="1.3"/>
<rect x="743.29" y="592.7" width="8" height="83.8" fill="#e2493a" stroke="#e31313" stroke-width="1.3"/>
<rect x="754.86" y="567.4" width="8" height="109.1" fill="#4a8f3a" stroke="#0f6c0f" stroke-width="1.3"/>
<rect x="766.43" y="597.3" width="8" height="79.2" fill="#e2493a" stroke="#e31313" stroke-width="1.3"/>
<rect x="777.99" y="615.4" width="8" height="61.1" fill="#4a8f3a" stroke="#0f6c0f" stroke-width="1.3"/>
<rect x="789.56" y="622.8" width="8" height="53.7" fill="#4a8f3a" stroke="#0f6c0f" stroke-width="1.3"/>
<rect x="801.12" y="630.4" width="8" height="46.1" fill="#e2493a" stroke="#e31313" stroke-width="1.3"/>
<rect x="812.69" y="621.2" width="8" height="55.3" fill="#e2493a" stroke="#e31313" stroke-width="1.3"/>
<rect x="824.25" y="624.3" width="8" height="52.2" fill="#4a8f3a" stroke="#0f6c0f" stroke-width="1.3"/>
<rect x="835.82" y="627.4" width="8" height="49.1" fill="#e2493a" stroke="#e31313" stroke-width="1.3"/>
<rect x="847.38" y="625.8" width="8" height="50.7" fill="#4a8f3a" stroke="#0f6c0f" stroke-width="1.3"/>
<rect x="858.95" y="618.4" width="8" height="58.1" fill="#4a8f3a" stroke="#0f6c0f" stroke-width="1.3"/>
<rect x="870.51" y="624.3" width="8" height="52.2" fill="#4a8f3a" stroke="#0f6c0f" stroke-width="1.3"/>
<rect x="882.08" y="628.9" width="8" height="47.6" fill="#4a8f3a" stroke="#0f6c0f" stroke-width="1.3"/>
<rect x="893.64" y="630.4" width="8" height="46.1" fill="#4a8f3a" stroke="#0f6c0f" stroke-width="1.3"/>
<rect x="905.21" y="630.4" width="8" height="46.1" fill="#4a8f3a" stroke="#0f6c0f" stroke-width="1.3"/>
<rect x="916.77" y="615.4" width="8" height="61.1" fill="#4a8f3a" stroke="#0f6c0f" stroke-width="1.3"/>
<rect x="928.34" y="622.8" width="8" height="53.7" fill="#4a8f3a" stroke="#0f6c0f" stroke-width="1.3"/>
<rect x="939.9" y="627.4" width="8" height="49.1" fill="#4a8f3a" stroke="#0f6c0f" stroke-width="1.3"/>
<rect x="951.47" y="631.5" width="8" height="45" fill="#e2493a" stroke="#e31313" stroke-width="1.3"/>
<rect x="14.2" y="551.7" width="213.5" height="21" fill="url(#bg)" stroke="none" stroke-width="1"/>
<path d="M18.3,566.4V560H21.6V566.4ZM22.6,566.4V553.8H25.9V566.4ZM26.9,566.4V557H30.2V566.4Z" fill="#4a963f" stroke="#0b650b" stroke-width="1.1"/>
<text transform="translate(36.2,566.7) scale(1.15,1)" font-family="Liberation Sans" font-size="15" font-weight="normal" fill="#111" textLength="164.96" lengthAdjust="spacing">Volume 2,702,002,432</text>
<rect x="14.7" y="712.9" width="8" height="4.75" fill="rgba(140,200,110,0.85)" stroke="#5a9a48" stroke-width="1.1"/>
<rect x="26.27" y="712.9" width="8" height="4.83" fill="rgba(140,200,110,0.85)" stroke="#5a9a48" stroke-width="1.1"/>
<rect x="37.83" y="712.9" width="8" height="4.34" fill="rgba(140,200,110,0.85)" stroke="#5a9a48" stroke-width="1.1"/>
<rect x="49.39" y="712.9" width="8" height="6.46" fill="rgba(140,200,110,0.85)" stroke="#5a9a48" stroke-width="1.1"/>
<rect x="60.96" y="712.9" width="8" height="7.14" fill="rgba(140,200,110,0.85)" stroke="#5a9a48" stroke-width="1.1"/>
<rect x="72.52" y="712.9" width="8" height="6.94" fill="rgba(140,200,110,0.85)" stroke="#5a9a48" stroke-width="1.1"/>
<rect x="84.09" y="712.9" width="8" height="3.25" fill="rgba(140,200,110,0.85)" stroke="#5a9a48" stroke-width="1.1"/>
<rect x="95.66" y="712.9" width="8" height="1.05" fill="rgba(140,200,110,0.85)" stroke="#5a9a48" stroke-width="1.1"/>
<rect x="107.22" y="710.7" width="8" height="2.2" fill="rgba(140,200,110,0.85)" stroke="#5a9a48" stroke-width="1.1"/>
<rect x="118.78" y="707.16" width="8" height="5.74" fill="rgba(140,200,110,0.85)" stroke="#5a9a48" stroke-width="1.1"/>
<rect x="130.35" y="704.08" width="8" height="8.82" fill="rgba(140,200,110,0.85)" stroke="#5a9a48" stroke-width="1.1"/>
<rect x="141.91" y="701.63" width="8" height="11.27" fill="rgba(140,200,110,0.85)" stroke="#5a9a48" stroke-width="1.1"/>
<rect x="153.48" y="701.18" width="8" height="11.72" fill="rgba(140,200,110,0.85)" stroke="#5a9a48" stroke-width="1.1"/>
<rect x="165.04" y="704.14" width="8" height="8.76" fill="rgba(140,200,110,0.85)" stroke="#5a9a48" stroke-width="1.1"/>
<rect x="176.61" y="704.85" width="8" height="8.05" fill="rgba(140,200,110,0.85)" stroke="#5a9a48" stroke-width="1.1"/>
<rect x="188.17" y="706.6" width="8" height="6.3" fill="rgba(140,200,110,0.85)" stroke="#5a9a48" stroke-width="1.1"/>
<rect x="199.74" y="707.16" width="8" height="5.74" fill="rgba(140,200,110,0.85)" stroke="#5a9a48" stroke-width="1.1"/>
<rect x="211.3" y="708.79" width="8" height="4.11" fill="rgba(140,200,110,0.85)" stroke="#5a9a48" stroke-width="1.1"/>
<rect x="222.87" y="711.46" width="8" height="1.44" fill="rgba(140,200,110,0.85)" stroke="#5a9a48" stroke-width="1.1"/>
<rect x="234.43" y="711.9" width="8" height="1" fill="rgba(140,200,110,0.85)" stroke="#5a9a48" stroke-width="1.1"/>
<rect x="246" y="711.82" width="8" height="1.08" fill="rgba(140,200,110,0.85)" stroke="#5a9a48" stroke-width="1.1"/>
<rect x="257.56" y="711.2" width="8" height="1.7" fill="rgba(140,200,110,0.85)" stroke="#5a9a48" stroke-width="1.1"/>
<rect x="269.13" y="711.9" width="8" height="1" fill="rgba(140,200,110,0.85)" stroke="#5a9a48" stroke-width="1.1"/>
<rect x="280.69" y="711.9" width="8" height="1" fill="rgba(140,200,110,0.85)" stroke="#5a9a48" stroke-width="1.1"/>
<rect x="292.26" y="711.9" width="8" height="1" fill="rgba(140,200,110,0.85)" stroke="#5a9a48" stroke-width="1.1"/>
<rect x="303.82" y="712.9" width="8" height="1" fill="rgba(140,200,110,0.85)" stroke="#5a9a48" stroke-width="1.1"/>
<rect x="315.39" y="711.69" width="8" height="1.21" fill="rgba(140,200,110,0.85)" stroke="#5a9a48" stroke-width="1.1"/>
<rect x="326.95" y="711" width="8" height="1.9" fill="rgba(140,200,110,0.85)" stroke="#5a9a48" stroke-width="1.1"/>
<rect x="338.52" y="710.33" width="8" height="2.57" fill="rgba(140,200,110,0.85)" stroke="#5a9a48" stroke-width="1.1"/>
<rect x="350.08" y="709.73" width="8" height="3.17" fill="rgba(140,200,110,0.85)" stroke="#5a9a48" stroke-width="1.1"/>
<rect x="361.65" y="710.42" width="8" height="2.48" fill="rgba(140,200,110,0.85)" stroke="#5a9a48" stroke-width="1.1"/>
<rect x="373.21" y="712.9" width="8" height="1.27" fill="rgba(140,200,110,0.85)" stroke="#5a9a48" stroke-width="1.1"/>
<rect x="384.78" y="712.9" width="8" height="4.56" fill="rgba(140,200,110,0.85)" stroke="#5a9a48" stroke-width="1.1"/>
<rect x="396.34" y="712.9" width="8" height="7.31" fill="rgba(140,200,110,0.85)" stroke="#5a9a48" stroke-width="1.1"/>
<rect x="407.91" y="712.9" width="8" height="8.73" fill="rgba(140,200,110,0.85)" stroke="#5a9a48" stroke-width="1.1"/>
<rect x="419.47" y="712.9" width="8" height="12" fill="rgba(140,200,110,0.85)" stroke="#5a9a48" stroke-width="1.1"/>
<rect x="431.04" y="712.9" width="8" height="10.75" fill="rgba(140,200,110,0.85)" stroke="#5a9a48" stroke-width="1.1"/>
<rect x="442.6" y="712.9" width="8" height="12.5" fill="rgba(140,200,110,0.85)" stroke="#5a9a48" stroke-width="1.1"/>
<rect x="454.17" y="712.9" width="8" height="15.04" fill="rgba(140,200,110,0.85)" stroke="#5a9a48" stroke-width="1.1"/>
<rect x="465.73" y="712.9" width="8" height="13.91" fill="rgba(140,200,110,0.85)" stroke="#5a9a48" stroke-width="1.1"/>
<rect x="477.3" y="712.9" width="8" height="15.46" fill="rgba(140,200,110,0.85)" stroke="#5a9a48" stroke-width="1.1"/>
<rect x="488.86" y="712.9" width="8" height="14.58" fill="rgba(140,200,110,0.85)" stroke="#5a9a48" stroke-width="1.1"/>
<rect x="500.43" y="712.9" width="8" height="17.7" fill="rgba(140,200,110,0.85)" stroke="#5a9a48" stroke-width="1.1"/>
<rect x="512" y="712.9" width="8" height="19.79" fill="rgba(140,200,110,0.85)" stroke="#5a9a48" stroke-width="1.1"/>
<rect x="523.56" y="712.9" width="8" height="19.04" fill="rgba(140,200,110,0.85)" stroke="#5a9a48" stroke-width="1.1"/>
<rect x="535.12" y="712.9" width="8" height="19.59" fill="rgba(140,200,110,0.85)" stroke="#5a9a48" stroke-width="1.1"/>
<rect x="546.69" y="712.9" width="8" height="15.14" fill="rgba(140,200,110,0.85)" stroke="#5a9a48" stroke-width="1.1"/>
<rect x="558.25" y="712.9" width="8" height="10.15" fill="rgba(140,200,110,0.85)" stroke="#5a9a48" stroke-width="1.1"/>
<rect x="569.82" y="712.9" width="8" height="7.9" fill="rgba(140,200,110,0.85)" stroke="#5a9a48" stroke-width="1.1"/>
<rect x="581.38" y="712.9" width="8" height="3.9" fill="rgba(140,200,110,0.85)" stroke="#5a9a48" stroke-width="1.1"/>
<rect x="592.95" y="712.9" width="8" height="1.16" fill="rgba(140,200,110,0.85)" stroke="#5a9a48" stroke-width="1.1"/>
<rect x="604.51" y="711.75" width="8" height="1.15" fill="rgba(140,200,110,0.85)" stroke="#5a9a48" stroke-width="1.1"/>
<rect x="616.08" y="707.02" width="8" height="5.88" fill="rgba(140,200,110,0.85)" stroke="#5a9a48" stroke-width="1.1"/>
<rect x="627.64" y="703.72" width="8" height="9.18" fill="rgba(140,200,110,0.85)" stroke="#5a9a48" stroke-width="1.1"/>
<rect x="639.21" y="703.66" width="8" height="9.24" fill="rgba(140,200,110,0.85)" stroke="#5a9a48" stroke-width="1.1"/>
<rect x="650.77" y="704.32" width="8" height="8.58" fill="rgba(140,200,110,0.85)" stroke="#5a9a48" stroke-width="1.1"/>
<rect x="662.34" y="708.15" width="8" height="4.75" fill="rgba(140,200,110,0.85)" stroke="#5a9a48" stroke-width="1.1"/>
<rect x="673.9" y="709.59" width="8" height="3.31" fill="rgba(140,200,110,0.85)" stroke="#5a9a48" stroke-width="1.1"/>
<rect x="685.47" y="709.74" width="8" height="3.16" fill="rgba(140,200,110,0.85)" stroke="#5a9a48" stroke-width="1.1"/>
<rect x="697.03" y="708.59" width="8" height="4.31" fill="rgba(140,200,110,0.85)" stroke="#5a9a48" stroke-width="1.1"/>
<rect x="708.6" y="712.9" width="8" height="2.96" fill="rgba(140,200,110,0.85)" stroke="#5a9a48" stroke-width="1.1"/>
<rect x="720.16" y="712.9" width="8" height="16.54" fill="rgba(140,200,110,0.85)" stroke="#5a9a48" stroke-width="1.1"/>
<rect x="731.73" y="712.9" width="8" height="24.19" fill="rgba(140,200,110,0.85)" stroke="#5a9a48" stroke-width="1.1"/>
<rect x="743.29" y="712.9" width="8" height="29.67" fill="rgba(140,200,110,0.85)" stroke="#5a9a48" stroke-width="1.1"/>
<rect x="754.86" y="712.9" width="8" height="17.18" fill="rgba(140,200,110,0.85)" stroke="#5a9a48" stroke-width="1.1"/>
<rect x="766.43" y="712.9" width="8" height="13.5" fill="rgba(140,200,110,0.85)" stroke="#5a9a48" stroke-width="1.1"/>
<rect x="777.99" y="712.9" width="8" height="7.16" fill="rgba(140,200,110,0.85)" stroke="#5a9a48" stroke-width="1.1"/>
<rect x="789.56" y="712.9" width="8" height="1.02" fill="rgba(140,200,110,0.85)" stroke="#5a9a48" stroke-width="1.1"/>
<rect x="801.12" y="709.75" width="8" height="3.15" fill="rgba(140,200,110,0.85)" stroke="#5a9a48" stroke-width="1.1"/>
<rect x="812.69" y="710.32" width="8" height="2.58" fill="rgba(140,200,110,0.85)" stroke="#5a9a48" stroke-width="1.1"/>
<rect x="824.25" y="710.07" width="8" height="2.83" fill="rgba(140,200,110,0.85)" stroke="#5a9a48" stroke-width="1.1"/>
<rect x="835.82" y="712.9" width="8" height="1" fill="rgba(140,200,110,0.85)" stroke="#5a9a48" stroke-width="1.1"/>
<rect x="847.38" y="710.81" width="8" height="2.09" fill="rgba(140,200,110,0.85)" stroke="#5a9a48" stroke-width="1.1"/>
<rect x="858.95" y="706.32" width="8" height="6.58" fill="rgba(140,200,110,0.85)" stroke="#5a9a48" stroke-width="1.1"/>
<rect x="870.51" y="700.15" width="8" height="12.75" fill="rgba(140,200,110,0.85)" stroke="#5a9a48" stroke-width="1.1"/>
<rect x="882.08" y="695.29" width="8" height="17.61" fill="rgba(140,200,110,0.85)" stroke="#5a9a48" stroke-width="1.1"/>
<rect x="893.64" y="692.63" width="8" height="20.27" fill="rgba(140,200,110,0.85)" stroke="#5a9a48" stroke-width="1.1"/>
<rect x="905.21" y="690.69" width="8" height="22.21" fill="rgba(140,200,110,0.85)" stroke="#5a9a48" stroke-width="1.1"/>
<rect x="916.77" y="690.06" width="8" height="22.84" fill="rgba(140,200,110,0.85)" stroke="#5a9a48" stroke-width="1.1"/>
<rect x="928.34" y="689.55" width="8" height="23.35" fill="rgba(140,200,110,0.85)" stroke="#5a9a48" stroke-width="1.1"/>
<rect x="939.9" y="687.79" width="8" height="25.11" fill="rgba(140,200,110,0.85)" stroke="#5a9a48" stroke-width="1.1"/>
<rect x="951.47" y="688.9" width="8" height="24" fill="rgba(140,200,110,0.85)" stroke="#5a9a48" stroke-width="1.1"/>
<polyline points="8.13,711.95 19.7,713.14 31.27,714.35 42.83,715.43 54.39,717.05 65.96,718.83 77.52,720.57 89.09,721.38 100.66,721.64 112.22,721.09 123.78,719.66 135.35,717.45 146.91,714.64 158.48,711.71 170.04,709.51 181.61,707.5 193.17,705.93 204.74,704.49 216.3,703.47 227.87,703.11 239.43,702.89 251,702.62 262.56,702.19 274.13,702.14 285.69,702.05 297.26,701.95 308.82,702 320.39,701.7 331.95,701.22 343.52,700.58 355.08,699.78 366.65,699.16 378.21,699.48 389.78,700.62 401.34,702.45 412.91,704.63 424.47,707.63 436.04,710.32 447.6,713.44 459.17,717.2 470.73,720.68 482.3,724.54 493.86,728.19 505.43,732.61 517,737.56 528.56,742.32 540.12,747.21 551.69,751 563.25,753.54 574.82,755.51 586.38,756.49 597.95,756.78 609.51,756.49 621.08,755.02 632.64,752.72 644.21,750.41 655.77,748.27 667.34,747.08 678.9,746.25 690.47,745.46 702.03,744.38 713.6,745.12 725.16,749.26 736.73,755.31 748.29,762.73 759.86,767.02 771.43,770.39 782.99,772.18 794.56,772.44 806.12,771.65 817.69,771.01 829.25,770.3 840.82,770.37 852.38,769.85 863.95,768.21 875.51,765.02 887.08,760.62 898.64,755.55 910.21,750 921.77,744.29 933.34,738.45 944.9,732.17 956.47,726.17" fill="none" stroke="#4528d8" stroke-width="1.9" stroke-linejoin="round" stroke-linecap="round" clip-path="url(#cM)"/>
<polyline points="8.13,719.29 19.7,717.89 31.27,719.18 42.83,719.77 54.39,723.51 65.96,725.97 77.52,727.51 89.09,724.63 100.66,722.69 112.22,718.89 123.78,713.91 135.35,708.64 146.91,703.37 158.48,699.99 170.04,700.75 181.61,699.45 193.17,699.63 204.74,698.76 216.3,699.35 227.87,701.66 239.43,702.01 251,701.54 262.56,700.49 274.13,701.93 285.69,701.69 297.26,701.56 308.82,702.19 320.39,700.49 331.95,699.32 343.52,698 355.08,696.61 366.65,696.68 378.21,700.75 389.78,705.18 401.34,709.76 412.91,713.35 424.47,719.63 436.04,721.07 447.6,725.94 459.17,732.24 470.73,734.58 482.3,740 493.86,742.76 505.43,750.3 517,757.35 528.56,761.36 540.12,766.8 551.69,766.14 563.25,763.69 574.82,763.41 586.38,760.39 597.95,757.94 609.51,755.34 621.08,749.14 632.64,743.54 644.21,741.17 655.77,739.68 667.34,742.34 678.9,742.94 690.47,742.3 702.03,740.07 713.6,748.08 725.16,765.79 736.73,779.5 748.29,792.4 759.86,784.2 771.43,783.89 782.99,779.34 794.56,773.46 806.12,768.5 817.69,768.42 829.25,767.47 840.82,770.67 852.38,767.77 863.95,761.63 875.51,752.27 887.08,743.01 898.64,735.28 910.21,727.79 921.77,721.45 933.34,715.1 944.9,707.07 956.47,702.18" fill="none" stroke="#111" stroke-width="2.3" stroke-linejoin="round" stroke-linecap="round" clip-path="url(#cM)"/>
<rect x="14.2" y="678" width="360" height="18.5" fill="url(#bg)" stroke="none" stroke-width="1"/>
<line x1="17.7" y1="686.5" x2="30.4" y2="686.5" stroke="#111" stroke-width="3"/>
<text transform="translate(36.2,693) scale(1.15,1)" font-family="Liberation Sans" font-size="15" font-weight="normal" fill="#111" textLength="165.22" lengthAdjust="spacing">MACD(12,26,9) 23.314</text>
<text transform="translate(227,693) scale(1.15,1)" font-family="Liberation Sans" font-size="15" font-weight="normal" fill="#4a35c8" textLength="67.83" lengthAdjust="spacing">, -28.858</text>
<text transform="translate(306,693) scale(1.15,1)" font-family="Liberation Sans" font-size="15" font-weight="normal" fill="#8ccc7a" textLength="59.13" lengthAdjust="spacing">, 52.172</text>
<line x1="13.7" y1="834.4" x2="1198.7" y2="834.4" stroke="#1f7a3d" stroke-width="1.5"/>
<line x1="13.7" y1="898" x2="1198.7" y2="898" stroke="#1f7a3d" stroke-width="1.5"/>
<line x1="15.5" y1="866.2" x2="1198.7" y2="866.2" stroke="#1f7a3d" stroke-width="1.8" stroke-dasharray="10.7,3.7,4,4"/>
<polyline points="8.13,890.68 19.7,888.84 31.27,880.44 42.83,874.74 54.39,879.31 65.96,887.16 77.52,895.51 89.09,891.5 100.66,881.97 112.22,863.42 123.78,847.3 135.35,831.22 146.91,821.64 158.48,817 170.04,819.97 181.61,826.1 193.17,833.49 204.74,835.6 216.3,836.6 227.87,837.48 239.43,843.18 251,848.92 262.56,850.43 274.13,850.19 285.69,848.72 297.26,850.43 308.82,849.52 320.39,845.68 331.95,838.27 343.52,827.97 355.08,820.7 366.65,816.97 378.21,824.7 389.78,843.83 401.34,870.03 412.91,891.51 424.47,902.03 436.04,902.51 447.6,901.62 459.17,899.29 470.73,900.42 482.3,901.19 493.86,901.89 505.43,903.37 517,904.1 528.56,907.2 540.12,908.85 551.69,908.34 563.25,904.16 574.82,897.05 586.38,891.17 597.95,887.95 609.51,884.34 621.08,877.24 632.64,863.49 644.21,849.08 655.77,840.03 667.34,844.76 678.9,856.62 690.47,869.82 702.03,871.78 713.6,874.63 725.16,880.94 736.73,895.65 748.29,904.01 759.86,899.11 771.43,887.28 782.99,872.4 794.56,865.75 806.12,859.63 817.69,858.73 829.25,858.18 840.82,862.59 852.38,866.33 863.95,865.65 875.51,854.76 887.08,838.5 898.64,823.97 910.21,816.83 921.77,815.48 933.34,816.58 944.9,817.61 956.47,819.05" fill="none" stroke="#f01818" stroke-width="1.6" stroke-linejoin="round" stroke-linecap="round" clip-path="url(#cS)"/>
<polyline points="8.13,891.5 19.7,878.04 31.27,871.79 42.83,874.39 54.39,891.74 65.96,895.35 77.52,899.45 89.09,879.69 100.66,866.77 112.22,843.81 123.78,831.33 135.35,818.52 146.91,815.05 158.48,817.44 170.04,827.42 181.61,833.44 193.17,839.61 204.74,833.75 216.3,836.45 227.87,842.23 239.43,850.86 251,853.67 262.56,846.77 274.13,850.13 285.69,849.28 297.26,851.88 308.82,847.39 320.39,837.76 331.95,829.66 343.52,816.49 355.08,815.96 366.65,818.46 378.21,839.68 389.78,873.36 401.34,897.05 412.91,904.12 424.47,904.91 436.04,898.5 447.6,901.46 459.17,897.92 470.73,901.87 482.3,903.77 493.86,900.02 505.43,906.33 517,905.96 528.56,909.32 540.12,911.28 551.69,904.43 563.25,896.78 574.82,889.94 586.38,886.81 597.95,887.11 609.51,879.09 621.08,865.52 632.64,845.87 644.21,835.86 655.77,838.35 667.34,860.06 678.9,871.45 690.47,877.96 702.03,865.92 713.6,880 725.16,896.89 736.73,910.05 748.29,905.08 759.86,882.2 771.43,874.56 782.99,860.43 794.56,862.25 806.12,856.21 817.69,857.72 829.25,860.6 840.82,869.44 852.38,868.95 863.95,858.58 875.51,836.77 887.08,820.17 898.64,814.97 910.21,815.35 921.77,816.14 933.34,818.24 944.9,818.44 956.47,820.47" fill="none" stroke="#111" stroke-width="2.3" stroke-linejoin="round" stroke-linecap="round" clip-path="url(#cS)"/>
<rect x="14.2" y="804" width="352" height="18" fill="url(#bg)" stroke="none" stroke-width="1"/>
<text transform="translate(128,818.5) scale(1.15,1)" font-family="Liberation Sans" font-size="15" font-weight="normal" fill="#111" textLength="154.35" lengthAdjust="spacing">K(14,3) %D(3) 93.14,</text>
<text transform="translate(317.3,818.5) scale(1.15,1)" font-family="Liberation Sans" font-size="15" font-weight="normal" fill="#f01818" textLength="40" lengthAdjust="spacing">94.48</text>
<text x="828.1" y="590.8" font-family="Liberation Sans" font-size="24" font-weight="bold" fill="#3a8a1c" text-anchor="start" textLength="154" lengthAdjust="spacingAndGlyphs">9 green days</text>
<rect x="851.1" y="602.6" width="96.4" height="90.4" fill="none" stroke="rgba(70,140,40,0.62)" stroke-width="2.6" rx="2"/>
<rect x="13.7" y="43.5" width="1185" height="486.3" fill="none" stroke="#93b5ba" stroke-width="1.6"/>
<rect x="13.7" y="550.9" width="1185" height="378.1" fill="none" stroke="#93b5ba" stroke-width="1.6"/>
<line x1="13.7" y1="169.8" x2="1198.7" y2="169.8" stroke="#93b5ba" stroke-width="1.6"/>
<line x1="13.7" y1="677.2" x2="1198.7" y2="677.2" stroke="#93b5ba" stroke-width="1.6"/>
<line x1="13.7" y1="803.2" x2="1198.7" y2="803.2" stroke="#93b5ba" stroke-width="1.6"/>
<line x1="19.7" y1="529.8" x2="19.7" y2="534" stroke="#93b5ba" stroke-width="1.2"/>
<line x1="19.7" y1="550.9" x2="19.7" y2="546.7" stroke="#93b5ba" stroke-width="1.2"/>
<line x1="19.7" y1="929" x2="19.7" y2="933.2" stroke="#93b5ba" stroke-width="1.2"/>
<line x1="31.27" y1="529.8" x2="31.27" y2="532.1" stroke="#93b5ba" stroke-width="1.2"/>
<line x1="31.27" y1="550.9" x2="31.27" y2="548.6" stroke="#93b5ba" stroke-width="1.2"/>
<line x1="31.27" y1="929" x2="31.27" y2="931.3" stroke="#93b5ba" stroke-width="1.2"/>
<line x1="42.83" y1="529.8" x2="42.83" y2="532.1" stroke="#93b5ba" stroke-width="1.2"/>
<line x1="42.83" y1="550.9" x2="42.83" y2="548.6" stroke="#93b5ba" stroke-width="1.2"/>
<line x1="42.83" y1="929" x2="42.83" y2="931.3" stroke="#93b5ba" stroke-width="1.2"/>
<line x1="54.39" y1="529.8" x2="54.39" y2="532.1" stroke="#93b5ba" stroke-width="1.2"/>
<line x1="54.39" y1="550.9" x2="54.39" y2="548.6" stroke="#93b5ba" stroke-width="1.2"/>
<line x1="54.39" y1="929" x2="54.39" y2="931.3" stroke="#93b5ba" stroke-width="1.2"/>
<line x1="65.96" y1="529.8" x2="65.96" y2="534" stroke="#93b5ba" stroke-width="1.2"/>
<line x1="65.96" y1="550.9" x2="65.96" y2="546.7" stroke="#93b5ba" stroke-width="1.2"/>
<line x1="65.96" y1="929" x2="65.96" y2="933.2" stroke="#93b5ba" stroke-width="1.2"/>
<line x1="77.52" y1="529.8" x2="77.52" y2="532.1" stroke="#93b5ba" stroke-width="1.2"/>
<line x1="77.52" y1="550.9" x2="77.52" y2="548.6" stroke="#93b5ba" stroke-width="1.2"/>
<line x1="77.52" y1="929" x2="77.52" y2="931.3" stroke="#93b5ba" stroke-width="1.2"/>
<line x1="89.09" y1="529.8" x2="89.09" y2="532.1" stroke="#93b5ba" stroke-width="1.2"/>
<line x1="89.09" y1="550.9" x2="89.09" y2="548.6" stroke="#93b5ba" stroke-width="1.2"/>
<line x1="89.09" y1="929" x2="89.09" y2="931.3" stroke="#93b5ba" stroke-width="1.2"/>
<line x1="100.66" y1="529.8" x2="100.66" y2="532.1" stroke="#93b5ba" stroke-width="1.2"/>
<line x1="100.66" y1="550.9" x2="100.66" y2="548.6" stroke="#93b5ba" stroke-width="1.2"/>
<line x1="100.66" y1="929" x2="100.66" y2="931.3" stroke="#93b5ba" stroke-width="1.2"/>
<line x1="112.22" y1="529.8" x2="112.22" y2="532.1" stroke="#93b5ba" stroke-width="1.2"/>
<line x1="112.22" y1="550.9" x2="112.22" y2="548.6" stroke="#93b5ba" stroke-width="1.2"/>
<line x1="112.22" y1="929" x2="112.22" y2="931.3" stroke="#93b5ba" stroke-width="1.2"/>
<line x1="123.78" y1="529.8" x2="123.78" y2="534" stroke="#93b5ba" stroke-width="1.2"/>
<line x1="123.78" y1="550.9" x2="123.78" y2="546.7" stroke="#93b5ba" stroke-width="1.2"/>
<line x1="123.78" y1="929" x2="123.78" y2="933.2" stroke="#93b5ba" stroke-width="1.2"/>
<line x1="135.35" y1="529.8" x2="135.35" y2="532.1" stroke="#93b5ba" stroke-width="1.2"/>
<line x1="135.35" y1="550.9" x2="135.35" y2="548.6" stroke="#93b5ba" stroke-width="1.2"/>
<line x1="135.35" y1="929" x2="135.35" y2="931.3" stroke="#93b5ba" stroke-width="1.2"/>
<line x1="146.91" y1="529.8" x2="146.91" y2="532.1" stroke="#93b5ba" stroke-width="1.2"/>
<line x1="146.91" y1="550.9" x2="146.91" y2="548.6" stroke="#93b5ba" stroke-width="1.2"/>
<line x1="146.91" y1="929" x2="146.91" y2="931.3" stroke="#93b5ba" stroke-width="1.2"/>
<line x1="158.48" y1="529.8" x2="158.48" y2="532.1" stroke="#93b5ba" stroke-width="1.2"/>
<line x1="158.48" y1="550.9" x2="158.48" y2="548.6" stroke="#93b5ba" stroke-width="1.2"/>
<line x1="158.48" y1="929" x2="158.48" y2="931.3" stroke="#93b5ba" stroke-width="1.2"/>
<line x1="170.04" y1="529.8" x2="170.04" y2="534" stroke="#93b5ba" stroke-width="1.2"/>
<line x1="170.04" y1="550.9" x2="170.04" y2="546.7" stroke="#93b5ba" stroke-width="1.2"/>
<line x1="170.04" y1="929" x2="170.04" y2="933.2" stroke="#93b5ba" stroke-width="1.2"/>
<line x1="181.61" y1="529.8" x2="181.61" y2="532.1" stroke="#93b5ba" stroke-width="1.2"/>
<line x1="181.61" y1="550.9" x2="181.61" y2="548.6" stroke="#93b5ba" stroke-width="1.2"/>
<line x1="181.61" y1="929" x2="181.61" y2="931.3" stroke="#93b5ba" stroke-width="1.2"/>
<line x1="193.17" y1="529.8" x2="193.17" y2="532.1" stroke="#93b5ba" stroke-width="1.2"/>
<line x1="193.17" y1="550.9" x2="193.17" y2="548.6" stroke="#93b5ba" stroke-width="1.2"/>
<line x1="193.17" y1="929" x2="193.17" y2="931.3" stroke="#93b5ba" stroke-width="1.2"/>
<line x1="204.74" y1="529.8" x2="204.74" y2="532.1" stroke="#93b5ba" stroke-width="1.2"/>
<line x1="204.74" y1="550.9" x2="204.74" y2="548.6" stroke="#93b5ba" stroke-width="1.2"/>
<line x1="204.74" y1="929" x2="204.74" y2="931.3" stroke="#93b5ba" stroke-width="1.2"/>
<line x1="216.3" y1="529.8" x2="216.3" y2="532.1" stroke="#93b5ba" stroke-width="1.2"/>
<line x1="216.3" y1="550.9" x2="216.3" y2="548.6" stroke="#93b5ba" stroke-width="1.2"/>
<line x1="216.3" y1="929" x2="216.3" y2="931.3" stroke="#93b5ba" stroke-width="1.2"/>
<line x1="227.87" y1="529.8" x2="227.87" y2="534" stroke="#93b5ba" stroke-width="1.2"/>
<line x1="227.87" y1="550.9" x2="227.87" y2="546.7" stroke="#93b5ba" stroke-width="1.2"/>
<line x1="227.87" y1="929" x2="227.87" y2="933.2" stroke="#93b5ba" stroke-width="1.2"/>
<line x1="239.43" y1="529.8" x2="239.43" y2="532.1" stroke="#93b5ba" stroke-width="1.2"/>
<line x1="239.43" y1="550.9" x2="239.43" y2="548.6" stroke="#93b5ba" stroke-width="1.2"/>
<line x1="239.43" y1="929" x2="239.43" y2="931.3" stroke="#93b5ba" stroke-width="1.2"/>
<line x1="251" y1="529.8" x2="251" y2="532.1" stroke="#93b5ba" stroke-width="1.2"/>
<line x1="251" y1="550.9" x2="251" y2="548.6" stroke="#93b5ba" stroke-width="1.2"/>
<line x1="251" y1="929" x2="251" y2="931.3" stroke="#93b5ba" stroke-width="1.2"/>
<line x1="262.56" y1="529.8" x2="262.56" y2="532.1" stroke="#93b5ba" stroke-width="1.2"/>
<line x1="262.56" y1="550.9" x2="262.56" y2="548.6" stroke="#93b5ba" stroke-width="1.2"/>
<line x1="262.56" y1="929" x2="262.56" y2="931.3" stroke="#93b5ba" stroke-width="1.2"/>
<line x1="274.13" y1="529.8" x2="274.13" y2="532.1" stroke="#93b5ba" stroke-width="1.2"/>
<line x1="274.13" y1="550.9" x2="274.13" y2="548.6" stroke="#93b5ba" stroke-width="1.2"/>
<line x1="274.13" y1="929" x2="274.13" y2="931.3" stroke="#93b5ba" stroke-width="1.2"/>
<line x1="285.69" y1="529.8" x2="285.69" y2="534" stroke="#93b5ba" stroke-width="1.2"/>
<line x1="285.69" y1="550.9" x2="285.69" y2="546.7" stroke="#93b5ba" stroke-width="1.2"/>
<line x1="285.69" y1="929" x2="285.69" y2="933.2" stroke="#93b5ba" stroke-width="1.2"/>
<line x1="297.26" y1="529.8" x2="297.26" y2="532.1" stroke="#93b5ba" stroke-width="1.2"/>
<line x1="297.26" y1="550.9" x2="297.26" y2="548.6" stroke="#93b5ba" stroke-width="1.2"/>
<line x1="297.26" y1="929" x2="297.26" y2="931.3" stroke="#93b5ba" stroke-width="1.2"/>
<line x1="308.82" y1="529.8" x2="308.82" y2="532.1" stroke="#93b5ba" stroke-width="1.2"/>
<line x1="308.82" y1="550.9" x2="308.82" y2="548.6" stroke="#93b5ba" stroke-width="1.2"/>
<line x1="308.82" y1="929" x2="308.82" y2="931.3" stroke="#93b5ba" stroke-width="1.2"/>
<line x1="320.39" y1="529.8" x2="320.39" y2="532.1" stroke="#93b5ba" stroke-width="1.2"/>
<line x1="320.39" y1="550.9" x2="320.39" y2="548.6" stroke="#93b5ba" stroke-width="1.2"/>
<line x1="320.39" y1="929" x2="320.39" y2="931.3" stroke="#93b5ba" stroke-width="1.2"/>
<line x1="331.95" y1="529.8" x2="331.95" y2="532.1" stroke="#93b5ba" stroke-width="1.2"/>
<line x1="331.95" y1="550.9" x2="331.95" y2="548.6" stroke="#93b5ba" stroke-width="1.2"/>
<line x1="331.95" y1="929" x2="331.95" y2="931.3" stroke="#93b5ba" stroke-width="1.2"/>
<line x1="343.52" y1="529.8" x2="343.52" y2="534" stroke="#93b5ba" stroke-width="1.2"/>
<line x1="343.52" y1="550.9" x2="343.52" y2="546.7" stroke="#93b5ba" stroke-width="1.2"/>
<line x1="343.52" y1="929" x2="343.52" y2="933.2" stroke="#93b5ba" stroke-width="1.2"/>
<line x1="355.08" y1="529.8" x2="355.08" y2="532.1" stroke="#93b5ba" stroke-width="1.2"/>
<line x1="355.08" y1="550.9" x2="355.08" y2="548.6" stroke="#93b5ba" stroke-width="1.2"/>
<line x1="355.08" y1="929" x2="355.08" y2="931.3" stroke="#93b5ba" stroke-width="1.2"/>
<line x1="366.65" y1="529.8" x2="366.65" y2="532.1" stroke="#93b5ba" stroke-width="1.2"/>
<line x1="366.65" y1="550.9" x2="366.65" y2="548.6" stroke="#93b5ba" stroke-width="1.2"/>
<line x1="366.65" y1="929" x2="366.65" y2="931.3" stroke="#93b5ba" stroke-width="1.2"/>
<line x1="378.21" y1="529.8" x2="378.21" y2="532.1" stroke="#93b5ba" stroke-width="1.2"/>
<line x1="378.21" y1="550.9" x2="378.21" y2="548.6" stroke="#93b5ba" stroke-width="1.2"/>
<line x1="378.21" y1="929" x2="378.21" y2="931.3" stroke="#93b5ba" stroke-width="1.2"/>
<line x1="389.78" y1="529.8" x2="389.78" y2="534" stroke="#93b5ba" stroke-width="1.2"/>
<line x1="389.78" y1="550.9" x2="389.78" y2="546.7" stroke="#93b5ba" stroke-width="1.2"/>
<line x1="389.78" y1="929" x2="389.78" y2="933.2" stroke="#93b5ba" stroke-width="1.2"/>
<line x1="401.34" y1="529.8" x2="401.34" y2="532.1" stroke="#93b5ba" stroke-width="1.2"/>
<line x1="401.34" y1="550.9" x2="401.34" y2="548.6" stroke="#93b5ba" stroke-width="1.2"/>
<line x1="401.34" y1="929" x2="401.34" y2="931.3" stroke="#93b5ba" stroke-width="1.2"/>
<line x1="412.91" y1="529.8" x2="412.91" y2="532.1" stroke="#93b5ba" stroke-width="1.2"/>
<line x1="412.91" y1="550.9" x2="412.91" y2="548.6" stroke="#93b5ba" stroke-width="1.2"/>
<line x1="412.91" y1="929" x2="412.91" y2="931.3" stroke="#93b5ba" stroke-width="1.2"/>
<line x1="424.47" y1="529.8" x2="424.47" y2="532.1" stroke="#93b5ba" stroke-width="1.2"/>
<line x1="424.47" y1="550.9" x2="424.47" y2="548.6" stroke="#93b5ba" stroke-width="1.2"/>
<line x1="424.47" y1="929" x2="424.47" y2="931.3" stroke="#93b5ba" stroke-width="1.2"/>
<line x1="436.04" y1="529.8" x2="436.04" y2="532.1" stroke="#93b5ba" stroke-width="1.2"/>
<line x1="436.04" y1="550.9" x2="436.04" y2="548.6" stroke="#93b5ba" stroke-width="1.2"/>
<line x1="436.04" y1="929" x2="436.04" y2="931.3" stroke="#93b5ba" stroke-width="1.2"/>
<line x1="447.6" y1="529.8" x2="447.6" y2="534" stroke="#93b5ba" stroke-width="1.2"/>
<line x1="447.6" y1="550.9" x2="447.6" y2="546.7" stroke="#93b5ba" stroke-width="1.2"/>
<line x1="447.6" y1="929" x2="447.6" y2="933.2" stroke="#93b5ba" stroke-width="1.2"/>
<line x1="459.17" y1="529.8" x2="459.17" y2="532.1" stroke="#93b5ba" stroke-width="1.2"/>
<line x1="459.17" y1="550.9" x2="459.17" y2="548.6" stroke="#93b5ba" stroke-width="1.2"/>
<line x1="459.17" y1="929" x2="459.17" y2="931.3" stroke="#93b5ba" stroke-width="1.2"/>
<line x1="470.73" y1="529.8" x2="470.73" y2="532.1" stroke="#93b5ba" stroke-width="1.2"/>
<line x1="470.73" y1="550.9" x2="470.73" y2="548.6" stroke="#93b5ba" stroke-width="1.2"/>
<line x1="470.73" y1="929" x2="470.73" y2="931.3" stroke="#93b5ba" stroke-width="1.2"/>
<line x1="482.3" y1="529.8" x2="482.3" y2="532.1" stroke="#93b5ba" stroke-width="1.2"/>
<line x1="482.3" y1="550.9" x2="482.3" y2="548.6" stroke="#93b5ba" stroke-width="1.2"/>
<line x1="482.3" y1="929" x2="482.3" y2="931.3" stroke="#93b5ba" stroke-width="1.2"/>
<line x1="493.86" y1="529.8" x2="493.86" y2="532.1" stroke="#93b5ba" stroke-width="1.2"/>
<line x1="493.86" y1="550.9" x2="493.86" y2="548.6" stroke="#93b5ba" stroke-width="1.2"/>
<line x1="493.86" y1="929" x2="493.86" y2="931.3" stroke="#93b5ba" stroke-width="1.2"/>
<line x1="505.43" y1="529.8" x2="505.43" y2="534" stroke="#93b5ba" stroke-width="1.2"/>
<line x1="505.43" y1="550.9" x2="505.43" y2="546.7" stroke="#93b5ba" stroke-width="1.2"/>
<line x1="505.43" y1="929" x2="505.43" y2="933.2" stroke="#93b5ba" stroke-width="1.2"/>
<line x1="517" y1="529.8" x2="517" y2="532.1" stroke="#93b5ba" stroke-width="1.2"/>
<line x1="517" y1="550.9" x2="517" y2="548.6" stroke="#93b5ba" stroke-width="1.2"/>
<line x1="517" y1="929" x2="517" y2="931.3" stroke="#93b5ba" stroke-width="1.2"/>
<line x1="528.56" y1="529.8" x2="528.56" y2="532.1" stroke="#93b5ba" stroke-width="1.2"/>
<line x1="528.56" y1="550.9" x2="528.56" y2="548.6" stroke="#93b5ba" stroke-width="1.2"/>
<line x1="528.56" y1="929" x2="528.56" y2="931.3" stroke="#93b5ba" stroke-width="1.2"/>
<line x1="540.12" y1="529.8" x2="540.12" y2="532.1" stroke="#93b5ba" stroke-width="1.2"/>
<line x1="540.12" y1="550.9" x2="540.12" y2="548.6" stroke="#93b5ba" stroke-width="1.2"/>
<line x1="540.12" y1="929" x2="540.12" y2="931.3" stroke="#93b5ba" stroke-width="1.2"/>
<line x1="551.69" y1="529.8" x2="551.69" y2="532.1" stroke="#93b5ba" stroke-width="1.2"/>
<line x1="551.69" y1="550.9" x2="551.69" y2="548.6" stroke="#93b5ba" stroke-width="1.2"/>
<line x1="551.69" y1="929" x2="551.69" y2="931.3" stroke="#93b5ba" stroke-width="1.2"/>
<line x1="563.25" y1="529.8" x2="563.25" y2="534" stroke="#93b5ba" stroke-width="1.2"/>
<line x1="563.25" y1="550.9" x2="563.25" y2="546.7" stroke="#93b5ba" stroke-width="1.2"/>
<line x1="563.25" y1="929" x2="563.25" y2="933.2" stroke="#93b5ba" stroke-width="1.2"/>
<line x1="574.82" y1="529.8" x2="574.82" y2="532.1" stroke="#93b5ba" stroke-width="1.2"/>
<line x1="574.82" y1="550.9" x2="574.82" y2="548.6" stroke="#93b5ba" stroke-width="1.2"/>
<line x1="574.82" y1="929" x2="574.82" y2="931.3" stroke="#93b5ba" stroke-width="1.2"/>
<line x1="586.38" y1="529.8" x2="586.38" y2="532.1" stroke="#93b5ba" stroke-width="1.2"/>
<line x1="586.38" y1="550.9" x2="586.38" y2="548.6" stroke="#93b5ba" stroke-width="1.2"/>
<line x1="586.38" y1="929" x2="586.38" y2="931.3" stroke="#93b5ba" stroke-width="1.2"/>
<line x1="597.95" y1="529.8" x2="597.95" y2="532.1" stroke="#93b5ba" stroke-width="1.2"/>
<line x1="597.95" y1="550.9" x2="597.95" y2="548.6" stroke="#93b5ba" stroke-width="1.2"/>
<line x1="597.95" y1="929" x2="597.95" y2="931.3" stroke="#93b5ba" stroke-width="1.2"/>
<line x1="609.51" y1="529.8" x2="609.51" y2="532.1" stroke="#93b5ba" stroke-width="1.2"/>
<line x1="609.51" y1="550.9" x2="609.51" y2="548.6" stroke="#93b5ba" stroke-width="1.2"/>
<line x1="609.51" y1="929" x2="609.51" y2="931.3" stroke="#93b5ba" stroke-width="1.2"/>
<line x1="621.08" y1="529.8" x2="621.08" y2="534" stroke="#93b5ba" stroke-width="1.2"/>
<line x1="621.08" y1="550.9" x2="621.08" y2="546.7" stroke="#93b5ba" stroke-width="1.2"/>
<line x1="621.08" y1="929" x2="621.08" y2="933.2" stroke="#93b5ba" stroke-width="1.2"/>
<line x1="632.64" y1="529.8" x2="632.64" y2="532.1" stroke="#93b5ba" stroke-width="1.2"/>
<line x1="632.64" y1="550.9" x2="632.64" y2="548.6" stroke="#93b5ba" stroke-width="1.2"/>
<line x1="632.64" y1="929" x2="632.64" y2="931.3" stroke="#93b5ba" stroke-width="1.2"/>
<line x1="644.21" y1="529.8" x2="644.21" y2="532.1" stroke="#93b5ba" stroke-width="1.2"/>
<line x1="644.21" y1="550.9" x2="644.21" y2="548.6" stroke="#93b5ba" stroke-width="1.2"/>
<line x1="644.21" y1="929" x2="644.21" y2="931.3" stroke="#93b5ba" stroke-width="1.2"/>
<line x1="655.77" y1="529.8" x2="655.77" y2="532.1" stroke="#93b5ba" stroke-width="1.2"/>
<line x1="655.77" y1="550.9" x2="655.77" y2="548.6" stroke="#93b5ba" stroke-width="1.2"/>
<line x1="655.77" y1="929" x2="655.77" y2="931.3" stroke="#93b5ba" stroke-width="1.2"/>
<line x1="667.34" y1="529.8" x2="667.34" y2="532.1" stroke="#93b5ba" stroke-width="1.2"/>
<line x1="667.34" y1="550.9" x2="667.34" y2="548.6" stroke="#93b5ba" stroke-width="1.2"/>
<line x1="667.34" y1="929" x2="667.34" y2="931.3" stroke="#93b5ba" stroke-width="1.2"/>
<line x1="678.9" y1="529.8" x2="678.9" y2="534" stroke="#93b5ba" stroke-width="1.2"/>
<line x1="678.9" y1="550.9" x2="678.9" y2="546.7" stroke="#93b5ba" stroke-width="1.2"/>
<line x1="678.9" y1="929" x2="678.9" y2="933.2" stroke="#93b5ba" stroke-width="1.2"/>
<line x1="690.47" y1="529.8" x2="690.47" y2="534" stroke="#93b5ba" stroke-width="1.2"/>
<line x1="690.47" y1="550.9" x2="690.47" y2="546.7" stroke="#93b5ba" stroke-width="1.2"/>
<line x1="690.47" y1="929" x2="690.47" y2="933.2" stroke="#93b5ba" stroke-width="1.2"/>
<line x1="702.03" y1="529.8" x2="702.03" y2="532.1" stroke="#93b5ba" stroke-width="1.2"/>
<line x1="702.03" y1="550.9" x2="702.03" y2="548.6" stroke="#93b5ba" stroke-width="1.2"/>
<line x1="702.03" y1="929" x2="702.03" y2="931.3" stroke="#93b5ba" stroke-width="1.2"/>
<line x1="713.6" y1="529.8" x2="713.6" y2="532.1" stroke="#93b5ba" stroke-width="1.2"/>
<line x1="713.6" y1="550.9" x2="713.6" y2="548.6" stroke="#93b5ba" stroke-width="1.2"/>
<line x1="713.6" y1="929" x2="713.6" y2="931.3" stroke="#93b5ba" stroke-width="1.2"/>
<line x1="725.16" y1="529.8" x2="725.16" y2="532.1" stroke="#93b5ba" stroke-width="1.2"/>
<line x1="725.16" y1="550.9" x2="725.16" y2="548.6" stroke="#93b5ba" stroke-width="1.2"/>
<line x1="725.16" y1="929" x2="725.16" y2="931.3" stroke="#93b5ba" stroke-width="1.2"/>
<line x1="736.73" y1="529.8" x2="736.73" y2="534" stroke="#93b5ba" stroke-width="1.2"/>
<line x1="736.73" y1="550.9" x2="736.73" y2="546.7" stroke="#93b5ba" stroke-width="1.2"/>
<line x1="736.73" y1="929" x2="736.73" y2="933.2" stroke="#93b5ba" stroke-width="1.2"/>
<line x1="748.29" y1="529.8" x2="748.29" y2="532.1" stroke="#93b5ba" stroke-width="1.2"/>
<line x1="748.29" y1="550.9" x2="748.29" y2="548.6" stroke="#93b5ba" stroke-width="1.2"/>
<line x1="748.29" y1="929" x2="748.29" y2="931.3" stroke="#93b5ba" stroke-width="1.2"/>
<line x1="759.86" y1="529.8" x2="759.86" y2="532.1" stroke="#93b5ba" stroke-width="1.2"/>
<line x1="759.86" y1="550.9" x2="759.86" y2="548.6" stroke="#93b5ba" stroke-width="1.2"/>
<line x1="759.86" y1="929" x2="759.86" y2="931.3" stroke="#93b5ba" stroke-width="1.2"/>
<line x1="771.43" y1="529.8" x2="771.43" y2="532.1" stroke="#93b5ba" stroke-width="1.2"/>
<line x1="771.43" y1="550.9" x2="771.43" y2="548.6" stroke="#93b5ba" stroke-width="1.2"/>
<line x1="771.43" y1="929" x2="771.43" y2="931.3" stroke="#93b5ba" stroke-width="1.2"/>
<line x1="782.99" y1="529.8" x2="782.99" y2="532.1" stroke="#93b5ba" stroke-width="1.2"/>
<line x1="782.99" y1="550.9" x2="782.99" y2="548.6" stroke="#93b5ba" stroke-width="1.2"/>
<line x1="782.99" y1="929" x2="782.99" y2="931.3" stroke="#93b5ba" stroke-width="1.2"/>
<line x1="794.56" y1="529.8" x2="794.56" y2="534" stroke="#93b5ba" stroke-width="1.2"/>
<line x1="794.56" y1="550.9" x2="794.56" y2="546.7" stroke="#93b5ba" stroke-width="1.2"/>
<line x1="794.56" y1="929" x2="794.56" y2="933.2" stroke="#93b5ba" stroke-width="1.2"/>
<line x1="806.12" y1="529.8" x2="806.12" y2="532.1" stroke="#93b5ba" stroke-width="1.2"/>
<line x1="806.12" y1="550.9" x2="806.12" y2="548.6" stroke="#93b5ba" stroke-width="1.2"/>
<line x1="806.12" y1="929" x2="806.12" y2="931.3" stroke="#93b5ba" stroke-width="1.2"/>
<line x1="817.69" y1="529.8" x2="817.69" y2="532.1" stroke="#93b5ba" stroke-width="1.2"/>
<line x1="817.69" y1="550.9" x2="817.69" y2="548.6" stroke="#93b5ba" stroke-width="1.2"/>
<line x1="817.69" y1="929" x2="817.69" y2="931.3" stroke="#93b5ba" stroke-width="1.2"/>
<line x1="829.25" y1="529.8" x2="829.25" y2="532.1" stroke="#93b5ba" stroke-width="1.2"/>
<line x1="829.25" y1="550.9" x2="829.25" y2="548.6" stroke="#93b5ba" stroke-width="1.2"/>
<line x1="829.25" y1="929" x2="829.25" y2="931.3" stroke="#93b5ba" stroke-width="1.2"/>
<line x1="840.82" y1="529.8" x2="840.82" y2="534" stroke="#93b5ba" stroke-width="1.2"/>
<line x1="840.82" y1="550.9" x2="840.82" y2="546.7" stroke="#93b5ba" stroke-width="1.2"/>
<line x1="840.82" y1="929" x2="840.82" y2="933.2" stroke="#93b5ba" stroke-width="1.2"/>
<line x1="852.38" y1="529.8" x2="852.38" y2="532.1" stroke="#93b5ba" stroke-width="1.2"/>
<line x1="852.38" y1="550.9" x2="852.38" y2="548.6" stroke="#93b5ba" stroke-width="1.2"/>
<line x1="852.38" y1="929" x2="852.38" y2="931.3" stroke="#93b5ba" stroke-width="1.2"/>
<line x1="863.95" y1="529.8" x2="863.95" y2="532.1" stroke="#93b5ba" stroke-width="1.2"/>
<line x1="863.95" y1="550.9" x2="863.95" y2="548.6" stroke="#93b5ba" stroke-width="1.2"/>
<line x1="863.95" y1="929" x2="863.95" y2="931.3" stroke="#93b5ba" stroke-width="1.2"/>
<line x1="875.51" y1="529.8" x2="875.51" y2="532.1" stroke="#93b5ba" stroke-width="1.2"/>
<line x1="875.51" y1="550.9" x2="875.51" y2="548.6" stroke="#93b5ba" stroke-width="1.2"/>
<line x1="875.51" y1="929" x2="875.51" y2="931.3" stroke="#93b5ba" stroke-width="1.2"/>
<line x1="887.08" y1="529.8" x2="887.08" y2="532.1" stroke="#93b5ba" stroke-width="1.2"/>
<line x1="887.08" y1="550.9" x2="887.08" y2="548.6" stroke="#93b5ba" stroke-width="1.2"/>
<line x1="887.08" y1="929" x2="887.08" y2="931.3" stroke="#93b5ba" stroke-width="1.2"/>
<line x1="898.64" y1="529.8" x2="898.64" y2="534" stroke="#93b5ba" stroke-width="1.2"/>
<line x1="898.64" y1="550.9" x2="898.64" y2="546.7" stroke="#93b5ba" stroke-width="1.2"/>
<line x1="898.64" y1="929" x2="898.64" y2="933.2" stroke="#93b5ba" stroke-width="1.2"/>
<line x1="910.21" y1="529.8" x2="910.21" y2="532.1" stroke="#93b5ba" stroke-width="1.2"/>
<line x1="910.21" y1="550.9" x2="910.21" y2="548.6" stroke="#93b5ba" stroke-width="1.2"/>
<line x1="910.21" y1="929" x2="910.21" y2="931.3" stroke="#93b5ba" stroke-width="1.2"/>
<line x1="921.77" y1="529.8" x2="921.77" y2="532.1" stroke="#93b5ba" stroke-width="1.2"/>
<line x1="921.77" y1="550.9" x2="921.77" y2="548.6" stroke="#93b5ba" stroke-width="1.2"/>
<line x1="921.77" y1="929" x2="921.77" y2="931.3" stroke="#93b5ba" stroke-width="1.2"/>
<line x1="933.34" y1="529.8" x2="933.34" y2="534" stroke="#93b5ba" stroke-width="1.2"/>
<line x1="933.34" y1="550.9" x2="933.34" y2="546.7" stroke="#93b5ba" stroke-width="1.2"/>
<line x1="933.34" y1="929" x2="933.34" y2="933.2" stroke="#93b5ba" stroke-width="1.2"/>
<line x1="944.9" y1="529.8" x2="944.9" y2="532.1" stroke="#93b5ba" stroke-width="1.2"/>
<line x1="944.9" y1="550.9" x2="944.9" y2="548.6" stroke="#93b5ba" stroke-width="1.2"/>
<line x1="944.9" y1="929" x2="944.9" y2="931.3" stroke="#93b5ba" stroke-width="1.2"/>
<line x1="956.47" y1="529.8" x2="956.47" y2="534" stroke="#93b5ba" stroke-width="1.2"/>
<line x1="956.47" y1="550.9" x2="956.47" y2="546.7" stroke="#93b5ba" stroke-width="1.2"/>
<line x1="956.47" y1="929" x2="956.47" y2="933.2" stroke="#93b5ba" stroke-width="1.2"/>
<line x1="968.03" y1="529.8" x2="968.03" y2="532.1" stroke="#93b5ba" stroke-width="1.2"/>
<line x1="968.03" y1="550.9" x2="968.03" y2="548.6" stroke="#93b5ba" stroke-width="1.2"/>
<line x1="968.03" y1="929" x2="968.03" y2="931.3" stroke="#93b5ba" stroke-width="1.2"/>
<line x1="979.6" y1="529.8" x2="979.6" y2="532.1" stroke="#93b5ba" stroke-width="1.2"/>
<line x1="979.6" y1="550.9" x2="979.6" y2="548.6" stroke="#93b5ba" stroke-width="1.2"/>
<line x1="979.6" y1="929" x2="979.6" y2="931.3" stroke="#93b5ba" stroke-width="1.2"/>
<line x1="991.16" y1="529.8" x2="991.16" y2="532.1" stroke="#93b5ba" stroke-width="1.2"/>
<line x1="991.16" y1="550.9" x2="991.16" y2="548.6" stroke="#93b5ba" stroke-width="1.2"/>
<line x1="991.16" y1="929" x2="991.16" y2="931.3" stroke="#93b5ba" stroke-width="1.2"/>
<line x1="1002.73" y1="529.8" x2="1002.73" y2="532.1" stroke="#93b5ba" stroke-width="1.2"/>
<line x1="1002.73" y1="550.9" x2="1002.73" y2="548.6" stroke="#93b5ba" stroke-width="1.2"/>
<line x1="1002.73" y1="929" x2="1002.73" y2="931.3" stroke="#93b5ba" stroke-width="1.2"/>
<line x1="1014.29" y1="529.8" x2="1014.29" y2="534" stroke="#93b5ba" stroke-width="1.2"/>
<line x1="1014.29" y1="550.9" x2="1014.29" y2="546.7" stroke="#93b5ba" stroke-width="1.2"/>
<line x1="1014.29" y1="929" x2="1014.29" y2="933.2" stroke="#93b5ba" stroke-width="1.2"/>
<line x1="1025.86" y1="529.8" x2="1025.86" y2="532.1" stroke="#93b5ba" stroke-width="1.2"/>
<line x1="1025.86" y1="550.9" x2="1025.86" y2="548.6" stroke="#93b5ba" stroke-width="1.2"/>
<line x1="1025.86" y1="929" x2="1025.86" y2="931.3" stroke="#93b5ba" stroke-width="1.2"/>
<line x1="1037.42" y1="529.8" x2="1037.42" y2="532.1" stroke="#93b5ba" stroke-width="1.2"/>
<line x1="1037.42" y1="550.9" x2="1037.42" y2="548.6" stroke="#93b5ba" stroke-width="1.2"/>
<line x1="1037.42" y1="929" x2="1037.42" y2="931.3" stroke="#93b5ba" stroke-width="1.2"/>
<line x1="1048.98" y1="529.8" x2="1048.98" y2="532.1" stroke="#93b5ba" stroke-width="1.2"/>
<line x1="1048.98" y1="550.9" x2="1048.98" y2="548.6" stroke="#93b5ba" stroke-width="1.2"/>
<line x1="1048.98" y1="929" x2="1048.98" y2="931.3" stroke="#93b5ba" stroke-width="1.2"/>
<line x1="1060.55" y1="529.8" x2="1060.55" y2="532.1" stroke="#93b5ba" stroke-width="1.2"/>
<line x1="1060.55" y1="550.9" x2="1060.55" y2="548.6" stroke="#93b5ba" stroke-width="1.2"/>
<line x1="1060.55" y1="929" x2="1060.55" y2="931.3" stroke="#93b5ba" stroke-width="1.2"/>
<line x1="1072.12" y1="529.8" x2="1072.12" y2="534" stroke="#93b5ba" stroke-width="1.2"/>
<line x1="1072.12" y1="550.9" x2="1072.12" y2="546.7" stroke="#93b5ba" stroke-width="1.2"/>
<line x1="1072.12" y1="929" x2="1072.12" y2="933.2" stroke="#93b5ba" stroke-width="1.2"/>
<line x1="1083.68" y1="529.8" x2="1083.68" y2="532.1" stroke="#93b5ba" stroke-width="1.2"/>
<line x1="1083.68" y1="550.9" x2="1083.68" y2="548.6" stroke="#93b5ba" stroke-width="1.2"/>
<line x1="1083.68" y1="929" x2="1083.68" y2="931.3" stroke="#93b5ba" stroke-width="1.2"/>
<line x1="1095.24" y1="529.8" x2="1095.24" y2="532.1" stroke="#93b5ba" stroke-width="1.2"/>
<line x1="1095.24" y1="550.9" x2="1095.24" y2="548.6" stroke="#93b5ba" stroke-width="1.2"/>
<line x1="1095.24" y1="929" x2="1095.24" y2="931.3" stroke="#93b5ba" stroke-width="1.2"/>
<line x1="1106.81" y1="529.8" x2="1106.81" y2="532.1" stroke="#93b5ba" stroke-width="1.2"/>
<line x1="1106.81" y1="550.9" x2="1106.81" y2="548.6" stroke="#93b5ba" stroke-width="1.2"/>
<line x1="1106.81" y1="929" x2="1106.81" y2="931.3" stroke="#93b5ba" stroke-width="1.2"/>
<line x1="1118.38" y1="529.8" x2="1118.38" y2="532.1" stroke="#93b5ba" stroke-width="1.2"/>
<line x1="1118.38" y1="550.9" x2="1118.38" y2="548.6" stroke="#93b5ba" stroke-width="1.2"/>
<line x1="1118.38" y1="929" x2="1118.38" y2="931.3" stroke="#93b5ba" stroke-width="1.2"/>
<line x1="1129.94" y1="529.8" x2="1129.94" y2="534" stroke="#93b5ba" stroke-width="1.2"/>
<line x1="1129.94" y1="550.9" x2="1129.94" y2="546.7" stroke="#93b5ba" stroke-width="1.2"/>
<line x1="1129.94" y1="929" x2="1129.94" y2="933.2" stroke="#93b5ba" stroke-width="1.2"/>
<line x1="1141.51" y1="529.8" x2="1141.51" y2="532.1" stroke="#93b5ba" stroke-width="1.2"/>
<line x1="1141.51" y1="550.9" x2="1141.51" y2="548.6" stroke="#93b5ba" stroke-width="1.2"/>
<line x1="1141.51" y1="929" x2="1141.51" y2="931.3" stroke="#93b5ba" stroke-width="1.2"/>
<line x1="1153.07" y1="529.8" x2="1153.07" y2="532.1" stroke="#93b5ba" stroke-width="1.2"/>
<line x1="1153.07" y1="550.9" x2="1153.07" y2="548.6" stroke="#93b5ba" stroke-width="1.2"/>
<line x1="1153.07" y1="929" x2="1153.07" y2="931.3" stroke="#93b5ba" stroke-width="1.2"/>
<line x1="1164.63" y1="529.8" x2="1164.63" y2="532.1" stroke="#93b5ba" stroke-width="1.2"/>
<line x1="1164.63" y1="550.9" x2="1164.63" y2="548.6" stroke="#93b5ba" stroke-width="1.2"/>
<line x1="1164.63" y1="929" x2="1164.63" y2="931.3" stroke="#93b5ba" stroke-width="1.2"/>
<line x1="1176.2" y1="529.8" x2="1176.2" y2="534" stroke="#93b5ba" stroke-width="1.2"/>
<line x1="1176.2" y1="550.9" x2="1176.2" y2="546.7" stroke="#93b5ba" stroke-width="1.2"/>
<line x1="1176.2" y1="929" x2="1176.2" y2="933.2" stroke="#93b5ba" stroke-width="1.2"/>
<line x1="1187.77" y1="529.8" x2="1187.77" y2="532.1" stroke="#93b5ba" stroke-width="1.2"/>
<line x1="1187.77" y1="550.9" x2="1187.77" y2="548.6" stroke="#93b5ba" stroke-width="1.2"/>
<line x1="1187.77" y1="929" x2="1187.77" y2="931.3" stroke="#93b5ba" stroke-width="1.2"/>
<line x1="1198.7" y1="523.65" x2="1201.3" y2="523.65" stroke="#93b5ba" stroke-width="1.1"/>
<line x1="1198.7" y1="518.5" x2="1201.3" y2="518.5" stroke="#93b5ba" stroke-width="1.1"/>
<line x1="1198.7" y1="513.35" x2="1201.3" y2="513.35" stroke="#93b5ba" stroke-width="1.1"/>
<line x1="1198.7" y1="508.2" x2="1201.3" y2="508.2" stroke="#93b5ba" stroke-width="1.1"/>
<line x1="1198.7" y1="503.05" x2="1203.2" y2="503.05" stroke="#93b5ba" stroke-width="1.1"/>
<line x1="1198.7" y1="497.9" x2="1201.3" y2="497.9" stroke="#93b5ba" stroke-width="1.1"/>
<line x1="1198.7" y1="492.75" x2="1201.3" y2="492.75" stroke="#93b5ba" stroke-width="1.1"/>
<line x1="1198.7" y1="487.6" x2="1201.3" y2="487.6" stroke="#93b5ba" stroke-width="1.1"/>
<line x1="1198.7" y1="482.45" x2="1201.3" y2="482.45" stroke="#93b5ba" stroke-width="1.1"/>
<line x1="1198.7" y1="477.3" x2="1203.2" y2="477.3" stroke="#93b5ba" stroke-width="1.1"/>
<line x1="1198.7" y1="472.15" x2="1201.3" y2="472.15" stroke="#93b5ba" stroke-width="1.1"/>
<line x1="1198.7" y1="467" x2="1201.3" y2="467" stroke="#93b5ba" stroke-width="1.1"/>
<line x1="1198.7" y1="461.85" x2="1201.3" y2="461.85" stroke="#93b5ba" stroke-width="1.1"/>
<line x1="1198.7" y1="456.7" x2="1201.3" y2="456.7" stroke="#93b5ba" stroke-width="1.1"/>
<line x1="1198.7" y1="451.55" x2="1203.2" y2="451.55" stroke="#93b5ba" stroke-width="1.1"/>
<line x1="1198.7" y1="446.4" x2="1201.3" y2="446.4" stroke="#93b5ba" stroke-width="1.1"/>
<line x1="1198.7" y1="441.25" x2="1201.3" y2="441.25" stroke="#93b5ba" stroke-width="1.1"/>
<line x1="1198.7" y1="436.1" x2="1201.3" y2="436.1" stroke="#93b5ba" stroke-width="1.1"/>
<line x1="1198.7" y1="430.95" x2="1201.3" y2="430.95" stroke="#93b5ba" stroke-width="1.1"/>
<line x1="1198.7" y1="425.8" x2="1203.2" y2="425.8" stroke="#93b5ba" stroke-width="1.1"/>
<line x1="1198.7" y1="420.65" x2="1201.3" y2="420.65" stroke="#93b5ba" stroke-width="1.1"/>
<line x1="1198.7" y1="415.5" x2="1201.3" y2="415.5" stroke="#93b5ba" stroke-width="1.1"/>
<line x1="1198.7" y1="410.35" x2="1201.3" y2="410.35" stroke="#93b5ba" stroke-width="1.1"/>
<line x1="1198.7" y1="405.2" x2="1201.3" y2="405.2" stroke="#93b5ba" stroke-width="1.1"/>
<line x1="1198.7" y1="400.05" x2="1203.2" y2="400.05" stroke="#93b5ba" stroke-width="1.1"/>
<line x1="1198.7" y1="394.9" x2="1201.3" y2="394.9" stroke="#93b5ba" stroke-width="1.1"/>
<line x1="1198.7" y1="389.75" x2="1201.3" y2="389.75" stroke="#93b5ba" stroke-width="1.1"/>
<line x1="1198.7" y1="384.6" x2="1201.3" y2="384.6" stroke="#93b5ba" stroke-width="1.1"/>
<line x1="1198.7" y1="379.45" x2="1201.3" y2="379.45" stroke="#93b5ba" stroke-width="1.1"/>
<line x1="1198.7" y1="374.3" x2="1203.2" y2="374.3" stroke="#93b5ba" stroke-width="1.1"/>
<line x1="1198.7" y1="369.15" x2="1201.3" y2="369.15" stroke="#93b5ba" stroke-width="1.1"/>
<line x1="1198.7" y1="364" x2="1201.3" y2="364" stroke="#93b5ba" stroke-width="1.1"/>
<line x1="1198.7" y1="358.85" x2="1201.3" y2="358.85" stroke="#93b5ba" stroke-width="1.1"/>
<line x1="1198.7" y1="353.7" x2="1201.3" y2="353.7" stroke="#93b5ba" stroke-width="1.1"/>
<line x1="1198.7" y1="348.55" x2="1203.2" y2="348.55" stroke="#93b5ba" stroke-width="1.1"/>
<line x1="1198.7" y1="343.4" x2="1201.3" y2="343.4" stroke="#93b5ba" stroke-width="1.1"/>
<line x1="1198.7" y1="338.25" x2="1201.3" y2="338.25" stroke="#93b5ba" stroke-width="1.1"/>
<line x1="1198.7" y1="333.1" x2="1201.3" y2="333.1" stroke="#93b5ba" stroke-width="1.1"/>
<line x1="1198.7" y1="327.95" x2="1201.3" y2="327.95" stroke="#93b5ba" stroke-width="1.1"/>
<line x1="1198.7" y1="322.8" x2="1203.2" y2="322.8" stroke="#93b5ba" stroke-width="1.1"/>
<line x1="1198.7" y1="317.65" x2="1201.3" y2="317.65" stroke="#93b5ba" stroke-width="1.1"/>
<line x1="1198.7" y1="312.5" x2="1201.3" y2="312.5" stroke="#93b5ba" stroke-width="1.1"/>
<line x1="1198.7" y1="307.35" x2="1201.3" y2="307.35" stroke="#93b5ba" stroke-width="1.1"/>
<line x1="1198.7" y1="302.2" x2="1201.3" y2="302.2" stroke="#93b5ba" stroke-width="1.1"/>
<line x1="1198.7" y1="297.05" x2="1203.2" y2="297.05" stroke="#93b5ba" stroke-width="1.1"/>
<line x1="1198.7" y1="291.9" x2="1201.3" y2="291.9" stroke="#93b5ba" stroke-width="1.1"/>
<line x1="1198.7" y1="286.75" x2="1201.3" y2="286.75" stroke="#93b5ba" stroke-width="1.1"/>
<line x1="1198.7" y1="281.6" x2="1201.3" y2="281.6" stroke="#93b5ba" stroke-width="1.1"/>
<line x1="1198.7" y1="276.45" x2="1201.3" y2="276.45" stroke="#93b5ba" stroke-width="1.1"/>
<line x1="1198.7" y1="271.3" x2="1203.2" y2="271.3" stroke="#93b5ba" stroke-width="1.1"/>
<line x1="1198.7" y1="266.15" x2="1201.3" y2="266.15" stroke="#93b5ba" stroke-width="1.1"/>
<line x1="1198.7" y1="261" x2="1201.3" y2="261" stroke="#93b5ba" stroke-width="1.1"/>
<line x1="1198.7" y1="255.85" x2="1201.3" y2="255.85" stroke="#93b5ba" stroke-width="1.1"/>
<line x1="1198.7" y1="250.7" x2="1201.3" y2="250.7" stroke="#93b5ba" stroke-width="1.1"/>
<line x1="1198.7" y1="245.55" x2="1203.2" y2="245.55" stroke="#93b5ba" stroke-width="1.1"/>
<line x1="1198.7" y1="240.4" x2="1201.3" y2="240.4" stroke="#93b5ba" stroke-width="1.1"/>
<line x1="1198.7" y1="235.25" x2="1201.3" y2="235.25" stroke="#93b5ba" stroke-width="1.1"/>
<line x1="1198.7" y1="230.1" x2="1201.3" y2="230.1" stroke="#93b5ba" stroke-width="1.1"/>
<line x1="1198.7" y1="224.95" x2="1201.3" y2="224.95" stroke="#93b5ba" stroke-width="1.1"/>
<line x1="1198.7" y1="219.8" x2="1203.2" y2="219.8" stroke="#93b5ba" stroke-width="1.1"/>
<line x1="1198.7" y1="214.65" x2="1201.3" y2="214.65" stroke="#93b5ba" stroke-width="1.1"/>
<line x1="1198.7" y1="209.5" x2="1201.3" y2="209.5" stroke="#93b5ba" stroke-width="1.1"/>
<line x1="1198.7" y1="204.35" x2="1201.3" y2="204.35" stroke="#93b5ba" stroke-width="1.1"/>
<line x1="1198.7" y1="199.2" x2="1201.3" y2="199.2" stroke="#93b5ba" stroke-width="1.1"/>
<line x1="1198.7" y1="194.05" x2="1203.2" y2="194.05" stroke="#93b5ba" stroke-width="1.1"/>
<line x1="1198.7" y1="188.9" x2="1201.3" y2="188.9" stroke="#93b5ba" stroke-width="1.1"/>
<line x1="1198.7" y1="183.75" x2="1201.3" y2="183.75" stroke="#93b5ba" stroke-width="1.1"/>
<line x1="1198.7" y1="178.6" x2="1201.3" y2="178.6" stroke="#93b5ba" stroke-width="1.1"/>
<line x1="1198.7" y1="173.45" x2="1201.3" y2="173.45" stroke="#93b5ba" stroke-width="1.1"/>
<line x1="1198.7" y1="64.7" x2="1203.2" y2="64.7" stroke="#93b5ba" stroke-width="1.1"/>
<line x1="1198.7" y1="85.7" x2="1203.2" y2="85.7" stroke="#93b5ba" stroke-width="1.1"/>
<line x1="1198.7" y1="106.7" x2="1203.2" y2="106.7" stroke="#93b5ba" stroke-width="1.1"/>
<line x1="1198.7" y1="127.7" x2="1203.2" y2="127.7" stroke="#93b5ba" stroke-width="1.1"/>
<line x1="1198.7" y1="148.7" x2="1203.2" y2="148.7" stroke="#93b5ba" stroke-width="1.1"/>
<line x1="1198.7" y1="665.97" x2="1201.3" y2="665.97" stroke="#93b5ba" stroke-width="1.1"/>
<line x1="1198.7" y1="654.94" x2="1201.3" y2="654.94" stroke="#93b5ba" stroke-width="1.1"/>
<line x1="1198.7" y1="643.91" x2="1203.2" y2="643.91" stroke="#93b5ba" stroke-width="1.1"/>
<line x1="1198.7" y1="632.88" x2="1201.3" y2="632.88" stroke="#93b5ba" stroke-width="1.1"/>
<line x1="1198.7" y1="621.85" x2="1201.3" y2="621.85" stroke="#93b5ba" stroke-width="1.1"/>
<line x1="1198.7" y1="610.82" x2="1203.2" y2="610.82" stroke="#93b5ba" stroke-width="1.1"/>
<line x1="1198.7" y1="599.79" x2="1201.3" y2="599.79" stroke="#93b5ba" stroke-width="1.1"/>
<line x1="1198.7" y1="588.76" x2="1201.3" y2="588.76" stroke="#93b5ba" stroke-width="1.1"/>
<line x1="1198.7" y1="577.73" x2="1203.2" y2="577.73" stroke="#93b5ba" stroke-width="1.1"/>
<line x1="1198.7" y1="566.7" x2="1201.3" y2="566.7" stroke="#93b5ba" stroke-width="1.1"/>
<line x1="1198.7" y1="555.67" x2="1201.3" y2="555.67" stroke="#93b5ba" stroke-width="1.1"/>
<line x1="1198.7" y1="712.9" x2="1203.2" y2="712.9" stroke="#93b5ba" stroke-width="1.1"/>
<line x1="1198.7" y1="735.9" x2="1203.2" y2="735.9" stroke="#93b5ba" stroke-width="1.1"/>
<line x1="1198.7" y1="758.9" x2="1203.2" y2="758.9" stroke="#93b5ba" stroke-width="1.1"/>
<line x1="1198.7" y1="781.9" x2="1203.2" y2="781.9" stroke="#93b5ba" stroke-width="1.1"/>
<line x1="1198.7" y1="834.4" x2="1203.2" y2="834.4" stroke="#93b5ba" stroke-width="1.1"/>
<line x1="1198.7" y1="866.2" x2="1203.2" y2="866.2" stroke="#93b5ba" stroke-width="1.1"/>
<line x1="1198.7" y1="898" x2="1203.2" y2="898" stroke="#93b5ba" stroke-width="1.1"/>
<text x="1203.8" y="67.6" font-family="Liberation Sans" font-size="13.5" font-weight="normal" fill="#111" text-anchor="start" textLength="17.4" lengthAdjust="spacingAndGlyphs">90</text>
<text x="1203.8" y="88.6" font-family="Liberation Sans" font-size="13.5" font-weight="normal" fill="#111" text-anchor="start" textLength="17.4" lengthAdjust="spacingAndGlyphs">70</text>
<text x="1203.8" y="109.6" font-family="Liberation Sans" font-size="13.5" font-weight="normal" fill="#111" text-anchor="start" textLength="17.4" lengthAdjust="spacingAndGlyphs">50</text>
<text x="1203.8" y="130.6" font-family="Liberation Sans" font-size="13.5" font-weight="normal" fill="#111" text-anchor="start" textLength="17.4" lengthAdjust="spacingAndGlyphs">30</text>
<text x="1203.8" y="151.6" font-family="Liberation Sans" font-size="13.5" font-weight="normal" fill="#111" text-anchor="start" textLength="17.4" lengthAdjust="spacingAndGlyphs">10</text>
<text x="1203.8" y="506.65" font-family="Liberation Sans" font-size="13.5" font-weight="normal" fill="#111" text-anchor="start" textLength="34.8" lengthAdjust="spacingAndGlyphs">4900</text>
<text x="1203.8" y="480.9" font-family="Liberation Sans" font-size="13.5" font-weight="normal" fill="#111" text-anchor="start" textLength="34.8" lengthAdjust="spacingAndGlyphs">5000</text>
<text x="1203.8" y="455.15" font-family="Liberation Sans" font-size="13.5" font-weight="normal" fill="#111" text-anchor="start" textLength="34.8" lengthAdjust="spacingAndGlyphs">5100</text>
<text x="1203.8" y="429.4" font-family="Liberation Sans" font-size="13.5" font-weight="normal" fill="#111" text-anchor="start" textLength="34.8" lengthAdjust="spacingAndGlyphs">5200</text>
<text x="1203.8" y="403.65" font-family="Liberation Sans" font-size="13.5" font-weight="normal" fill="#111" text-anchor="start" textLength="34.8" lengthAdjust="spacingAndGlyphs">5300</text>
<text x="1203.8" y="377.9" font-family="Liberation Sans" font-size="13.5" font-weight="normal" fill="#111" text-anchor="start" textLength="34.8" lengthAdjust="spacingAndGlyphs">5400</text>
<text x="1203.8" y="352.15" font-family="Liberation Sans" font-size="13.5" font-weight="normal" fill="#111" text-anchor="start" textLength="34.8" lengthAdjust="spacingAndGlyphs">5500</text>
<text x="1203.8" y="326.4" font-family="Liberation Sans" font-size="13.5" font-weight="normal" fill="#111" text-anchor="start" textLength="34.8" lengthAdjust="spacingAndGlyphs">5600</text>
<text x="1203.8" y="300.65" font-family="Liberation Sans" font-size="13.5" font-weight="normal" fill="#111" text-anchor="start" textLength="34.8" lengthAdjust="spacingAndGlyphs">5700</text>
<text x="1203.8" y="274.9" font-family="Liberation Sans" font-size="13.5" font-weight="normal" fill="#111" text-anchor="start" textLength="34.8" lengthAdjust="spacingAndGlyphs">5800</text>
<text x="1203.8" y="249.15" font-family="Liberation Sans" font-size="13.5" font-weight="normal" fill="#111" text-anchor="start" textLength="34.8" lengthAdjust="spacingAndGlyphs">5900</text>
<text x="1203.8" y="223.4" font-family="Liberation Sans" font-size="13.5" font-weight="normal" fill="#111" text-anchor="start" textLength="34.8" lengthAdjust="spacingAndGlyphs">6000</text>
<text x="1203.8" y="197.65" font-family="Liberation Sans" font-size="13.5" font-weight="normal" fill="#111" text-anchor="start" textLength="34.8" lengthAdjust="spacingAndGlyphs">6100</text>
<text x="1203.8" y="581.3" font-family="Liberation Sans" font-size="13.5" font-weight="normal" fill="#111" text-anchor="start" textLength="21" lengthAdjust="spacingAndGlyphs">6B</text>
<text x="1203.8" y="614.4" font-family="Liberation Sans" font-size="13.5" font-weight="normal" fill="#111" text-anchor="start" textLength="21" lengthAdjust="spacingAndGlyphs">4B</text>
<text x="1203.8" y="647.5" font-family="Liberation Sans" font-size="13.5" font-weight="normal" fill="#111" text-anchor="start" textLength="21" lengthAdjust="spacingAndGlyphs">2B</text>
<text x="1228" y="716.8" font-family="Liberation Sans" font-size="14" font-weight="normal" fill="#111" text-anchor="start" textLength="8" lengthAdjust="spacingAndGlyphs">0</text>
<text x="1213" y="739.8" font-family="Liberation Sans" font-size="14" font-weight="normal" fill="#111" text-anchor="start" textLength="22" lengthAdjust="spacingAndGlyphs">-50</text>
<text x="1206" y="762.8" font-family="Liberation Sans" font-size="14" font-weight="normal" fill="#111" text-anchor="start" textLength="31" lengthAdjust="spacingAndGlyphs">-100</text>
<text x="1206" y="785.8" font-family="Liberation Sans" font-size="14" font-weight="normal" fill="#111" text-anchor="start" textLength="31" lengthAdjust="spacingAndGlyphs">-150</text>
<text x="1203.8" y="837.3" font-family="Liberation Sans" font-size="13.5" font-weight="normal" fill="#111" text-anchor="start" textLength="17.4" lengthAdjust="spacingAndGlyphs">80</text>
<text x="1203.8" y="869.1" font-family="Liberation Sans" font-size="13.5" font-weight="normal" fill="#111" text-anchor="start" textLength="17.4" lengthAdjust="spacingAndGlyphs">50</text>
<text x="1203.8" y="900.9" font-family="Liberation Sans" font-size="13.5" font-weight="normal" fill="#111" text-anchor="start" textLength="17.4" lengthAdjust="spacingAndGlyphs">20</text>
<text x="15.45" y="545.4" font-family="Liberation Sans" font-size="14" font-weight="normal" fill="#111" text-anchor="start" textLength="8.3" lengthAdjust="spacingAndGlyphs">6</text>
<text x="57.8" y="545.4" font-family="Liberation Sans" font-size="14" font-weight="normal" fill="#111" text-anchor="start" textLength="16.6" lengthAdjust="spacingAndGlyphs">13</text>
<text x="113.3" y="545.4" font-family="Liberation Sans" font-size="14" font-weight="normal" fill="#111" text-anchor="start" textLength="16.6" lengthAdjust="spacingAndGlyphs">21</text>
<text x="159.5" y="545.4" font-family="Liberation Sans" font-size="14" font-weight="normal" fill="#111" text-anchor="start" textLength="16.6" lengthAdjust="spacingAndGlyphs">27</text>
<text x="276" y="545.4" font-family="Liberation Sans" font-size="14" font-weight="normal" fill="#111" text-anchor="start" textLength="16.6" lengthAdjust="spacingAndGlyphs">10</text>
<text x="333.82" y="545.4" font-family="Liberation Sans" font-size="14" font-weight="normal" fill="#111" text-anchor="start" textLength="16.6" lengthAdjust="spacingAndGlyphs">18</text>
<text x="380.08" y="545.4" font-family="Liberation Sans" font-size="14" font-weight="normal" fill="#111" text-anchor="start" textLength="16.6" lengthAdjust="spacingAndGlyphs">24</text>
<text x="495.73" y="545.4" font-family="Liberation Sans" font-size="14" font-weight="normal" fill="#111" text-anchor="start" textLength="16.6" lengthAdjust="spacingAndGlyphs">10</text>
<text x="553.56" y="545.4" font-family="Liberation Sans" font-size="14" font-weight="normal" fill="#111" text-anchor="start" textLength="16.6" lengthAdjust="spacingAndGlyphs">17</text>
<text x="611.38" y="545.4" font-family="Liberation Sans" font-size="14" font-weight="normal" fill="#111" text-anchor="start" textLength="16.6" lengthAdjust="spacingAndGlyphs">24</text>
<text x="731.18" y="545.4" font-family="Liberation Sans" font-size="14" font-weight="normal" fill="#111" text-anchor="start" textLength="8.3" lengthAdjust="spacingAndGlyphs">7</text>
<text x="784.86" y="545.4" font-family="Liberation Sans" font-size="14" font-weight="normal" fill="#111" text-anchor="start" textLength="16.6" lengthAdjust="spacingAndGlyphs">14</text>
<text x="831.12" y="545.4" font-family="Liberation Sans" font-size="14" font-weight="normal" fill="#111" text-anchor="start" textLength="16.6" lengthAdjust="spacingAndGlyphs">21</text>
<text x="888.94" y="545.4" font-family="Liberation Sans" font-size="14" font-weight="normal" fill="#111" text-anchor="start" textLength="16.6" lengthAdjust="spacingAndGlyphs">28</text>
<text x="950.92" y="545.4" font-family="Liberation Sans" font-size="14" font-weight="normal" fill="#111" text-anchor="start" textLength="8.3" lengthAdjust="spacingAndGlyphs">5</text>
<text x="1004.59" y="545.4" font-family="Liberation Sans" font-size="14" font-weight="normal" fill="#111" text-anchor="start" textLength="16.6" lengthAdjust="spacingAndGlyphs">12</text>
<text x="1062.41" y="545.4" font-family="Liberation Sans" font-size="14" font-weight="normal" fill="#111" text-anchor="start" textLength="16.6" lengthAdjust="spacingAndGlyphs">19</text>
<text x="1120.24" y="545.4" font-family="Liberation Sans" font-size="14" font-weight="normal" fill="#111" text-anchor="start" textLength="16.6" lengthAdjust="spacingAndGlyphs">27</text>
<text x="227.87" y="545.4" font-family="Liberation Sans" font-size="16" font-weight="bold" fill="#000" text-anchor="middle">Feb</text>
<text x="447.6" y="545.4" font-family="Liberation Sans" font-size="16" font-weight="bold" fill="#000" text-anchor="middle">Mar</text>
<text x="690.97" y="545.4" font-family="Liberation Sans" font-size="16" font-weight="bold" fill="#000" text-anchor="middle">Apr</text>
<text x="933.3" y="545.4" font-family="Liberation Sans" font-size="16" font-weight="bold" fill="#000" text-anchor="middle">May</text>
<text x="1177.2" y="545.4" font-family="Liberation Sans" font-size="16" font-weight="bold" fill="#000" text-anchor="middle">Jun</text>
<text x="15.45" y="943" font-family="Liberation Sans" font-size="14" font-weight="normal" fill="#111" text-anchor="start" textLength="8.3" lengthAdjust="spacingAndGlyphs">6</text>
<text x="57.8" y="943" font-family="Liberation Sans" font-size="14" font-weight="normal" fill="#111" text-anchor="start" textLength="16.6" lengthAdjust="spacingAndGlyphs">13</text>
<text x="113.3" y="943" font-family="Liberation Sans" font-size="14" font-weight="normal" fill="#111" text-anchor="start" textLength="16.6" lengthAdjust="spacingAndGlyphs">21</text>
<text x="159.5" y="943" font-family="Liberation Sans" font-size="14" font-weight="normal" fill="#111" text-anchor="start" textLength="16.6" lengthAdjust="spacingAndGlyphs">27</text>
<text x="276" y="943" font-family="Liberation Sans" font-size="14" font-weight="normal" fill="#111" text-anchor="start" textLength="16.6" lengthAdjust="spacingAndGlyphs">10</text>
<text x="333.82" y="943" font-family="Liberation Sans" font-size="14" font-weight="normal" fill="#111" text-anchor="start" textLength="16.6" lengthAdjust="spacingAndGlyphs">18</text>
<text x="380.08" y="943" font-family="Liberation Sans" font-size="14" font-weight="normal" fill="#111" text-anchor="start" textLength="16.6" lengthAdjust="spacingAndGlyphs">24</text>
<text x="495.73" y="943" font-family="Liberation Sans" font-size="14" font-weight="normal" fill="#111" text-anchor="start" textLength="16.6" lengthAdjust="spacingAndGlyphs">10</text>
<text x="553.56" y="943" font-family="Liberation Sans" font-size="14" font-weight="normal" fill="#111" text-anchor="start" textLength="16.6" lengthAdjust="spacingAndGlyphs">17</text>
<text x="611.38" y="943" font-family="Liberation Sans" font-size="14" font-weight="normal" fill="#111" text-anchor="start" textLength="16.6" lengthAdjust="spacingAndGlyphs">24</text>
<text x="731.18" y="943" font-family="Liberation Sans" font-size="14" font-weight="normal" fill="#111" text-anchor="start" textLength="8.3" lengthAdjust="spacingAndGlyphs">7</text>
<text x="784.86" y="943" font-family="Liberation Sans" font-size="14" font-weight="normal" fill="#111" text-anchor="start" textLength="16.6" lengthAdjust="spacingAndGlyphs">14</text>
<text x="831.12" y="943" font-family="Liberation Sans" font-size="14" font-weight="normal" fill="#111" text-anchor="start" textLength="16.6" lengthAdjust="spacingAndGlyphs">21</text>
<text x="888.94" y="943" font-family="Liberation Sans" font-size="14" font-weight="normal" fill="#111" text-anchor="start" textLength="16.6" lengthAdjust="spacingAndGlyphs">28</text>
<text x="950.92" y="943" font-family="Liberation Sans" font-size="14" font-weight="normal" fill="#111" text-anchor="start" textLength="8.3" lengthAdjust="spacingAndGlyphs">5</text>
<text x="1004.59" y="943" font-family="Liberation Sans" font-size="14" font-weight="normal" fill="#111" text-anchor="start" textLength="16.6" lengthAdjust="spacingAndGlyphs">12</text>
<text x="1062.41" y="943" font-family="Liberation Sans" font-size="14" font-weight="normal" fill="#111" text-anchor="start" textLength="16.6" lengthAdjust="spacingAndGlyphs">19</text>
<text x="1120.24" y="943" font-family="Liberation Sans" font-size="14" font-weight="normal" fill="#111" text-anchor="start" textLength="16.6" lengthAdjust="spacingAndGlyphs">27</text>
<text x="227.87" y="943" font-family="Liberation Sans" font-size="16" font-weight="bold" fill="#000" text-anchor="middle">Feb</text>
<text x="447.6" y="943" font-family="Liberation Sans" font-size="16" font-weight="bold" fill="#000" text-anchor="middle">Mar</text>
<text x="690.97" y="943" font-family="Liberation Sans" font-size="16" font-weight="bold" fill="#000" text-anchor="middle">Apr</text>
<text x="933.3" y="943" font-family="Liberation Sans" font-size="16" font-weight="bold" fill="#000" text-anchor="middle">May</text>
<text x="1177.2" y="943" font-family="Liberation Sans" font-size="16" font-weight="bold" fill="#000" text-anchor="middle">Jun</text>
<polygon points="1195.3,97.6 1200.6,90.5 1245.5,90.5 1245.5,105.3 1200.6,105.3" fill="#cdfbfd" stroke="#3b3bd8" stroke-width="1.5" stroke-linejoin="miter"/>
<text x="1202.5" y="102.7" font-family="Liberation Sans" font-size="14" font-weight="normal" fill="#000" text-anchor="start" textLength="40" lengthAdjust="spacingAndGlyphs">57.53</text>
<polygon points="1195.3,346.9 1200.6,339.3 1260,339.3 1260,354.5 1200.6,354.5" fill="#cdfbfd" stroke="#1a801a" stroke-width="1.5" stroke-linejoin="miter"/>
<text x="1202.5" y="351.9" font-family="Liberation Sans" font-size="14" font-weight="normal" fill="#000" text-anchor="start" textLength="55.5" lengthAdjust="spacingAndGlyphs">5499.07</text>
<polygon points="1195.3,327.2 1200.6,319.4 1260,319.4 1260,335 1200.6,335" fill="#cdfbfd" stroke="#2c2cb0" stroke-width="1.5" stroke-linejoin="miter"/>
<text x="1202.5" y="332.4" font-family="Liberation Sans" font-size="14" font-weight="normal" fill="#000" text-anchor="start" textLength="55.5" lengthAdjust="spacingAndGlyphs">5575.50</text>
<polygon points="1195.3,308 1200.6,300.4 1260,300.4 1260,316.8 1200.6,316.8" fill="#cdfbfd" stroke="#111" stroke-width="1.8" stroke-linejoin="miter"/>
<text x="1202.5" y="314.2" font-family="Liberation Sans" font-size="14" font-weight="bold" fill="#000" text-anchor="start" textLength="53.5" lengthAdjust="spacingAndGlyphs">5650.38</text>
<polygon points="1195.3,630.8 1200.6,623 1260,623 1260,638.2 1200.6,638.2" fill="#cdfbfd" stroke="#333" stroke-width="1.5" stroke-linejoin="miter"/>
<text x="1202.5" y="635.6" font-family="Liberation Sans" font-size="14" font-weight="normal" fill="#000" text-anchor="start" textLength="69.6" lengthAdjust="spacingAndGlyphs">27020024</text>
<polygon points="1195.3,725 1200.6,717.3 1260,717.3 1260,732.4 1200.6,732.4" fill="#cdfbfd" stroke="#4a30e0" stroke-width="2" stroke-linejoin="miter"/>
<text x="1202.5" y="729.8" font-family="Liberation Sans" font-size="14" font-weight="normal" fill="#000" text-anchor="start" textLength="52" lengthAdjust="spacingAndGlyphs">-28.858</text>
<polygon points="1195.3,687.5 1200.6,680.3 1260,680.3 1260,693.6 1200.6,693.6" fill="#cdfbfd" stroke="#6f8f6a" stroke-width="1.5" stroke-linejoin="miter"/>
<text x="1202.5" y="691" font-family="Liberation Sans" font-size="14" font-weight="normal" fill="#000" text-anchor="start" textLength="47.5" lengthAdjust="spacingAndGlyphs">52.172</text>
<polygon points="1195.3,701.1 1200.6,694.5 1260,694.5 1260,707.9 1200.6,707.9" fill="#cdfbfd" stroke="#111" stroke-width="1.8" stroke-linejoin="miter"/>
<text x="1202.5" y="705.3" font-family="Liberation Sans" font-size="14" font-weight="normal" fill="#000" text-anchor="start" textLength="47.5" lengthAdjust="spacingAndGlyphs">23.314</text>
<polygon points="1195.3,817.5 1200.6,810.4 1245.2,810.4 1245.2,824 1200.6,824" fill="#cdfbfd" stroke="#e01010" stroke-width="1.8"/>
<polygon points="1195.3,819.4 1200.6,812.4 1245.5,812.4 1245.5,827 1200.6,827" fill="#cdfbfd" stroke="#222" stroke-width="1.7" stroke-linejoin="miter"/>
<text x="1202.5" y="824.4" font-family="Liberation Sans" font-size="14" font-weight="normal" fill="#000" text-anchor="start" textLength="40" lengthAdjust="spacingAndGlyphs">93.14</text>
<text x="14" y="21.2" font-family="Liberation Sans" font-size="20.5" font-weight="bold" fill="#111" text-anchor="start" textLength="48.4" lengthAdjust="spacingAndGlyphs">$SPX</text>
<text x="69.4" y="20.7" font-family="Liberation Sans" font-size="16.5" font-weight="normal" fill="#111" text-anchor="start" textLength="183.6" lengthAdjust="spacingAndGlyphs">S&amp;P 500 Large Cap Index</text>
<text x="261.3" y="20.7" font-family="Liberation Sans" font-size="13" font-weight="normal" fill="#111" text-anchor="start" textLength="34.7" lengthAdjust="spacingAndGlyphs">INDX</text>
<text x="13" y="39.8" font-family="Liberation Sans" font-size="14" font-weight="normal" fill="#111" text-anchor="start" textLength="82.8" lengthAdjust="spacingAndGlyphs">5-May-2025</text>
<text x="474.4" y="39.6" font-family="Liberation Sans" font-size="15.5" font-weight="bold" fill="#000" text-anchor="start" textLength="43" lengthAdjust="spacingAndGlyphs">Open</text>
<text x="522.2" y="39.6" font-family="Liberation Sans" font-size="14" font-weight="normal" fill="#000" text-anchor="start" textLength="58.4" lengthAdjust="spacingAndGlyphs">5655.32</text>
<text x="589.2" y="39.6" font-family="Liberation Sans" font-size="15.5" font-weight="bold" fill="#000" text-anchor="start" textLength="36" lengthAdjust="spacingAndGlyphs">High</text>
<text x="630.7" y="39.6" font-family="Liberation Sans" font-size="14" font-weight="normal" fill="#000" text-anchor="start" textLength="57.3" lengthAdjust="spacingAndGlyphs">5683.38</text>
<text x="697.6" y="39.6" font-family="Liberation Sans" font-size="15.5" font-weight="bold" fill="#000" text-anchor="start" textLength="35.1" lengthAdjust="spacingAndGlyphs">Low</text>
<text x="738.5" y="39.6" font-family="Liberation Sans" font-size="14" font-weight="normal" fill="#000" text-anchor="start" textLength="57.1" lengthAdjust="spacingAndGlyphs">5634.48</text>
<text x="806.1" y="39.6" font-family="Liberation Sans" font-size="15.5" font-weight="bold" fill="#000" text-anchor="start" textLength="46.5" lengthAdjust="spacingAndGlyphs">Close</text>
<text x="858.7" y="39.6" font-family="Liberation Sans" font-size="14" font-weight="normal" fill="#000" text-anchor="start" textLength="57.9" lengthAdjust="spacingAndGlyphs">5650.38</text>
<text x="926.6" y="39.6" font-family="Liberation Sans" font-size="15.5" font-weight="bold" fill="#000" text-anchor="start" textLength="62.7" lengthAdjust="spacingAndGlyphs">Volume</text>
<text x="1037.2" y="39.6" font-family="Liberation Sans" font-size="15.5" font-weight="bold" fill="#000" text-anchor="start" textLength="31.4" lengthAdjust="spacingAndGlyphs">Chg</text>
<text x="1074.7" y="39.6" font-family="Liberation Sans" font-size="14" font-weight="normal" fill="#000" text-anchor="start" textLength="108.8" lengthAdjust="spacingAndGlyphs">-36.29 (-0.64%)</text>
<text x="995" y="39.6" font-family="Liberation Sans" font-size="14" font-weight="normal" fill="#000" text-anchor="start" textLength="21" lengthAdjust="spacingAndGlyphs">2.7</text>
<text x="1017" y="39.6" font-family="Liberation Sans" font-size="11" font-weight="normal" fill="#000" text-anchor="start" textLength="9.5" lengthAdjust="spacingAndGlyphs">B</text>
<polygon points="1186.9,32.5 1198.3,32.5 1192.6,37.9" fill="#a0002e"/>
<text x="1064.4" y="20.6" font-family="Liberation Sans" font-size="14" font-weight="normal" fill="#606060" text-anchor="start" textLength="10.3" lengthAdjust="spacingAndGlyphs">©</text>
<text x="1079.5" y="20.7" font-family="Liberation Sans" font-size="15.5" font-weight="normal" fill="#606060" text-anchor="start" textLength="118.8" lengthAdjust="spacingAndGlyphs">StockCharts.com</text>
<rect x="14.2" y="44.3" width="143" height="20.3" fill="url(#bg)" stroke="none" stroke-width="1"/>
<path d="M17.9,59.2L20.5,53L23.4,47L25.3,51.2L26.6,49.8L28.1,54.2L30.5,50.2V59.2Z" fill="#6cc4c0"/><path d="M17.9,59.2L20.5,53L23.4,47L25.3,51.2L26.6,49.8L28.1,54.2L30.5,50.2V59.2" fill="none" stroke="#3b3bd8" stroke-width="1.7" stroke-linejoin="round"/>
<text transform="translate(37,59.5) scale(1.15,1)" font-family="Liberation Sans" font-size="15" font-weight="normal" fill="#111" textLength="102.09" lengthAdjust="spacing">RSI(14) 57.53</text>
<rect x="13" y="802.2" width="112.6" height="23.7" fill="#cccccc" stroke="none" stroke-width="1"/>
<text x="18.7" y="820.2" font-family="Liberation Sans" font-size="14" font-weight="normal" fill="#1c1c1c" text-anchor="start" textLength="102" lengthAdjust="spacingAndGlyphs">10 Apr Y:-18.51</text>
</svg></body></html>
